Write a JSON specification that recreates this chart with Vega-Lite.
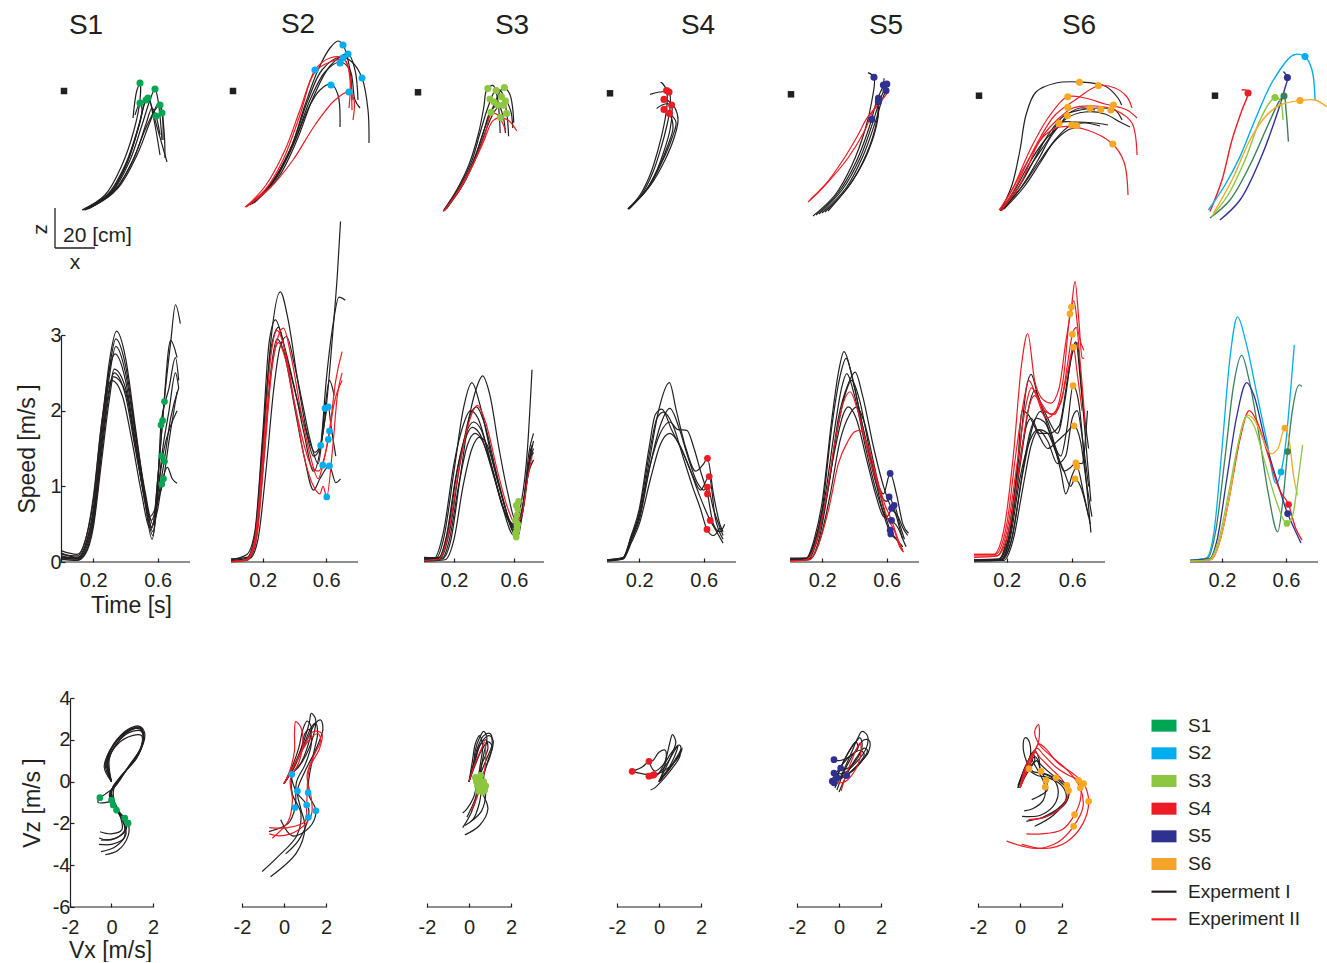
{
"$schema":"https://vega.github.io/schema/vega-lite/v6.json",
"background":"white","padding":0,"spacing":0,"bounds":"flush","columns":8,
"config":{"view":{"stroke":null},"font":"Liberation Sans",
"axis":{"grid":false,"domainColor":"#231f20","domainWidth":1.2,"tickColor":"#231f20","tickWidth":1.2,"labelColor":"#231f20","labelFont":"Liberation Sans","labelFontSize":20,"titleFont":"Liberation Sans","titleFontSize":23,"titleFontWeight":"normal","titleColor":"#231f20","labelFlush":false,"labelOverlap":false,"labelExpr":"'' + datum.value"},
"axisX":{"domain":false},
"title":{"font":"Liberation Sans","fontSize":28,"fontWeight":"normal","color":"#231f20"}},
"datasets":{
"a1":[{"k":1,"x":9,"z":-59},{"k":1,"x":20.5,"z":-51.5},{"k":1,"x":29,"z":-36.5},{"k":1,"x":35,"z":-19},{"k":1,"x":38,"z":-4},{"k":1,"x":38,"z":4},{"k":1,"x":36.5,"z":1},{"k":1,"x":34.5,"z":-13},
{"k":2,"x":10,"z":-59},{"k":2,"x":22,"z":-51},{"k":2,"x":31,"z":-35.5},{"k":2,"x":37,"z":-18},{"k":2,"x":40.5,"z":-5},{"k":2,"x":42,"z":-2},{"k":2,"x":45,"z":-14},{"k":2,"x":48,"z":-31.5},
{"k":3,"x":11,"z":-58.5},{"k":3,"x":24,"z":-50},{"k":3,"x":33,"z":-34},{"k":3,"x":39,"z":-16.5},{"k":3,"x":43,"z":-4},{"k":3,"x":45.5,"z":1.5},{"k":3,"x":47,"z":-4},{"k":3,"x":49,"z":-24},
{"k":4,"x":12,"z":-58.5},{"k":4,"x":25.5,"z":-49},{"k":4,"x":35,"z":-33},{"k":4,"x":41,"z":-16},{"k":4,"x":44,"z":-8},{"k":4,"x":46,"z":-12},{"k":4,"x":48,"z":-21.5},
{"k":5,"x":9.5,"z":-59},{"k":5,"x":23,"z":-50.5},{"k":5,"x":32,"z":-34},{"k":5,"x":38,"z":-15},{"k":5,"x":41,"z":-4},{"k":5,"x":42.5,"z":-4},{"k":5,"x":45.5,"z":-14},{"k":5,"x":51.5,"z":-35},
{"k":6,"x":13,"z":-58},{"k":6,"x":27,"z":-48},{"k":6,"x":36.5,"z":-31.5},{"k":6,"x":43,"z":-15},{"k":6,"x":47,"z":-6},{"k":6,"x":49,"z":-10.5},{"k":6,"x":49.5,"z":-24},
{"k":7,"x":10.5,"z":-59},{"k":7,"x":22,"z":-52},{"k":7,"x":30.5,"z":-38},{"k":7,"x":36,"z":-22},{"k":7,"x":39,"z":-9},{"k":7,"x":38,"z":-5.5},{"k":7,"x":35.5,"z":-11.5},
{"k":8,"x":11.5,"z":-58.5},{"k":8,"x":24.5,"z":-50.5},{"k":8,"x":34,"z":-35},{"k":8,"x":40.5,"z":-19},{"k":8,"x":45.5,"z":-9},{"k":8,"x":48,"z":-6.5},{"k":8,"x":50,"z":-19},{"k":8,"x":50.5,"z":-33}],
"a1d":[{"x":38,"z":4.5},{"x":45.5,"z":1.5},{"x":38,"z":-5.5},{"x":42,"z":-3},{"x":48,"z":-6.5},{"x":49,"z":-10.5},{"x":46,"z":-12},{"x":41,"z":-4}],
"a2":[{"k":1,"x":7,"z":-57},{"k":1,"x":18.5,"z":-46.5},{"k":1,"x":28.5,"z":-29},{"k":1,"x":36,"z":-6.5},{"k":1,"x":42.5,"z":11},{"k":1,"x":48.5,"z":22},{"k":1,"x":52.5,"z":25.5},{"k":1,"x":55,"z":23.5},{"k":1,"x":58.5,"z":11},{"k":1,"x":59.5,"z":-4},
{"k":2,"x":8.5,"z":-56.5},{"k":2,"x":19.5,"z":-45},{"k":2,"x":29.5,"z":-26.5},{"k":2,"x":37.5,"z":-4},{"k":2,"x":44.5,"z":11},{"k":2,"x":53.5,"z":17.5},{"k":2,"x":59.5,"z":15},{"k":2,"x":64.5,"z":7},{"k":2,"x":67.5,"z":-9},{"k":2,"x":68,"z":-25.5},
{"k":3,"x":9.5,"z":-56},{"k":3,"x":21,"z":-44},{"k":3,"x":30.5,"z":-25.5},{"k":3,"x":38.5,"z":-4},{"k":3,"x":46,"z":10},{"k":3,"x":53.5,"z":15},{"k":3,"x":58.5,"z":11},{"k":3,"x":61,"z":-4},{"k":3,"x":63.5,"z":-8},
{"k":4,"x":8,"z":-56.5},{"k":4,"x":19.5,"z":-45.5},{"k":4,"x":30,"z":-26.5},{"k":4,"x":38.5,"z":-6.5},{"k":4,"x":43.5,"z":1},{"k":4,"x":49,"z":4},{"k":4,"x":52.5,"z":-1.5},{"k":4,"x":53.5,"z":-17.5},
{"k":5,"x":10.5,"z":-55.5},{"k":5,"x":22.5,"z":-43},{"k":5,"x":32,"z":-24},{"k":5,"x":40,"z":-3},{"k":5,"x":48.5,"z":13},{"k":5,"x":57.5,"z":19},{"k":5,"x":61,"z":11},{"k":5,"x":62.5,"z":-4}],
"a2r":[{"k":1,"x":6,"z":-57.5},{"k":1,"x":16,"z":-49},{"k":1,"x":25,"z":-34},{"k":1,"x":33.5,"z":-11.5},{"k":1,"x":41,"z":11},{"k":1,"x":48.5,"z":17},{"k":1,"x":55,"z":17},{"k":1,"x":58,"z":11},{"k":1,"x":59.5,"z":-9},
{"k":2,"x":6.5,"z":-57.5},{"k":2,"x":18.5,"z":-48},{"k":2,"x":30,"z":-34},{"k":2,"x":41,"z":-16.5},{"k":2,"x":51,"z":-4},{"k":2,"x":58,"z":0},{"k":2,"x":60.5,"z":-4},{"k":2,"x":60,"z":-14},
{"k":3,"x":7,"z":-57},{"k":3,"x":16.5,"z":-46.5},{"k":3,"x":26,"z":-29},{"k":3,"x":33.5,"z":-9},{"k":3,"x":41,"z":10},{"k":3,"x":48.5,"z":15},{"k":3,"x":56,"z":16},{"k":3,"x":58.5,"z":6},{"k":3,"x":58,"z":-8}],
"a2d":[{"x":55,"z":23.5},{"x":57.5,"z":19},{"x":55,"z":17},{"x":53.5,"z":14.5},{"x":41,"z":11},{"x":64.5,"z":7},{"x":49,"z":3.5},{"x":58,"z":0}],
"a3":[{"k":1,"x":12.7,"z":-59.3},{"k":1,"x":19.4,"z":-48.9},{"k":1,"x":25.6,"z":-36},{"k":1,"x":30.3,"z":-20.5},{"k":1,"x":32.9,"z":-7.6},{"k":1,"x":34.4,"z":1.2},{"k":1,"x":37.5,"z":3.3},{"k":1,"x":39.6,"z":-2.4},{"k":1,"x":41.1,"z":-20.5},
{"k":2,"x":13.2,"z":-58.8},{"k":2,"x":20.5,"z":-47.9},{"k":2,"x":26.7,"z":-35},{"k":2,"x":31.3,"z":-19.5},{"k":2,"x":35,"z":-7.6},{"k":2,"x":39.1,"z":1.2},{"k":2,"x":41.7,"z":0.2},{"k":2,"x":44.3,"z":-10.2},{"k":2,"x":45.3,"z":-22.1},
{"k":3,"x":13.7,"z":-58.8},{"k":3,"x":21.5,"z":-47.4},{"k":3,"x":28.2,"z":-33.5},{"k":3,"x":33.4,"z":-18},{"k":3,"x":37.5,"z":-7.6},{"k":3,"x":42.7,"z":2.2},{"k":3,"x":45.8,"z":-0.9},{"k":3,"x":47.9,"z":-15.4},
{"k":4,"x":13.2,"z":-59.3},{"k":4,"x":21,"z":-48.4},{"k":4,"x":27.7,"z":-34.5},{"k":4,"x":32.9,"z":-19.5},{"k":4,"x":36,"z":-10.2},{"k":4,"x":40.1,"z":-6.6},{"k":4,"x":42.7,"z":-12.8},{"k":4,"x":43.7,"z":-20.5},
{"k":5,"x":14.3,"z":-58.3},{"k":5,"x":22.5,"z":-46.4},{"k":5,"x":29.3,"z":-31.9},{"k":5,"x":34.4,"z":-18},{"k":5,"x":38.6,"z":-9.2},{"k":5,"x":43.7,"z":-4.5},{"k":5,"x":46.3,"z":-9.2},{"k":5,"x":47.4,"z":-18}],
"a3r":[{"k":1,"x":12.7,"z":-59.8},{"k":1,"x":19.4,"z":-50.5},{"k":1,"x":26.2,"z":-38.6},{"k":1,"x":32.4,"z":-25.7},{"k":1,"x":37.5,"z":-14.3},{"k":1,"x":41.2,"z":-12.8},{"k":1,"x":45.3,"z":-14.3},{"k":1,"x":49.4,"z":-19.5},
{"k":2,"x":13.2,"z":-59.3},{"k":2,"x":20.5,"z":-49.5},{"k":2,"x":27.2,"z":-37.1},{"k":2,"x":33.4,"z":-21.6},{"k":2,"x":36.5,"z":-11.2},{"k":2,"x":39.6,"z":-11.2},{"k":2,"x":42.7,"z":-16.4},{"k":2,"x":43.7,"z":-19.5}],
"a3d":[{"x":34.9,"z":1.7},{"x":39.1,"z":0.7},{"x":43.2,"z":2.2},{"x":36,"z":-3.5},{"x":40.1,"z":-6.6},{"x":43.7,"z":-4.5},{"x":42.7,"z":-6.6},{"x":36.5,"z":-10.2},{"x":41.2,"z":-12.8},{"x":44.3,"z":-10.7},{"x":38.1,"z":-5},{"x":41.7,"z":-2.4}],
"a4":[{"k":1,"x":9,"z":-58.5},{"k":1,"x":15,"z":-51.5},{"k":1,"x":20,"z":-41.5},{"k":1,"x":24,"z":-29},{"k":1,"x":27,"z":-16.5},{"k":1,"x":28.5,"z":-6.5},{"k":1,"x":28.3,"z":0.7},{"k":1,"x":26.5,"z":4},{"k":1,"x":25,"z":5.2},
{"k":2,"x":9.5,"z":-58.5},{"k":2,"x":16,"z":-51},{"k":2,"x":21.5,"z":-40},{"k":2,"x":25.5,"z":-28},{"k":2,"x":28.5,"z":-16.5},{"k":2,"x":30,"z":-8},{"k":2,"x":29.5,"z":-0.2},{"k":2,"x":25,"z":0},{"k":2,"x":20,"z":-1.2},
{"k":3,"x":9,"z":-58.5},{"k":3,"x":17.5,"z":-50},{"k":3,"x":23.5,"z":-39},{"k":3,"x":27.5,"z":-28},{"k":3,"x":30,"z":-19},{"k":3,"x":31,"z":-10},{"k":3,"x":30.8,"z":-6.5},{"k":3,"x":27.5,"z":-6},{"k":3,"x":23.3,"z":-8.2},
{"k":4,"x":9.5,"z":-58},{"k":4,"x":18,"z":-49},{"k":4,"x":24.5,"z":-37.5},{"k":4,"x":29,"z":-26.5},{"k":4,"x":31.5,"z":-18},{"k":4,"x":30,"z":-11.5},{"k":4,"x":27,"z":-8.7},
{"k":5,"x":9,"z":-58.5},{"k":5,"x":19,"z":-48},{"k":5,"x":26,"z":-35},{"k":5,"x":31,"z":-23},{"k":5,"x":33,"z":-15},{"k":5,"x":29.7,"z":-10.7},
{"k":6,"x":10,"z":-58},{"k":6,"x":20,"z":-47},{"k":6,"x":27.5,"z":-34},{"k":6,"x":32.5,"z":-21.5},{"k":6,"x":34,"z":-14},{"k":6,"x":32.5,"z":-8},{"k":6,"x":28,"z":-3.7},{"k":6,"x":27,"z":-3.7}],
"a4d":[{"x":28.3,"z":0.7},{"x":29.5,"z":0},{"x":27,"z":-3.7},{"x":30.8,"z":-6.5},{"x":27,"z":-8.7},{"x":29.7,"z":-10.7}],
"a5":[{"k":1,"x":11,"z":-62},{"k":1,"x":22,"z":-51.5},{"k":1,"x":30.5,"z":-36.5},{"k":1,"x":37,"z":-19},{"k":1,"x":40.5,"z":-4},{"k":1,"x":41.5,"z":7.4},{"k":1,"x":38.5,"z":9.7},
{"k":2,"x":12.5,"z":-61.5},{"k":2,"x":23.5,"z":-50.5},{"k":2,"x":32.5,"z":-35},{"k":2,"x":39,"z":-18},{"k":2,"x":43,"z":-4},{"k":2,"x":46.2,"z":3.5},{"k":2,"x":46.5,"z":6.9},
{"k":3,"x":14,"z":-61},{"k":3,"x":25.5,"z":-49},{"k":3,"x":34.5,"z":-33},{"k":3,"x":40.5,"z":-16.5},{"k":3,"x":44.5,"z":-4},{"k":3,"x":47.9,"z":4},
{"k":4,"x":15.5,"z":-60.5},{"k":4,"x":27.5,"z":-48},{"k":4,"x":36,"z":-32},{"k":4,"x":42,"z":-15.5},{"k":4,"x":45.5,"z":-4},{"k":4,"x":47.5,"z":0.7},
{"k":5,"x":17,"z":-60},{"k":5,"x":29,"z":-47},{"k":5,"x":37.5,"z":-31.5},{"k":5,"x":43,"z":-14},{"k":5,"x":43.7,"z":-3.2},
{"k":6,"x":18.5,"z":-59.5},{"k":6,"x":30,"z":-45.5},{"k":6,"x":38.5,"z":-30},{"k":6,"x":43.5,"z":-13},{"k":6,"x":43.7,"z":-4.9}],
"a5r":[{"k":1,"x":8.5,"z":-55},{"k":1,"x":17,"z":-46.5},{"k":1,"x":26,"z":-34},{"k":1,"x":33.5,"z":-21.5},{"k":1,"x":37.9,"z":-13.2},{"k":1,"x":43.5,"z":-6.5},{"k":1,"x":48.7,"z":0.2},
{"k":2,"x":9.5,"z":-54},{"k":2,"x":18.5,"z":-45},{"k":2,"x":28.5,"z":-33},{"k":2,"x":37,"z":-19},{"k":2,"x":41.2,"z":-9},{"k":2,"x":44.5,"z":-4}],
"a5d":[{"x":41.5,"z":7.4},{"x":46.2,"z":3.5},{"x":47.9,"z":4},{"x":47.5,"z":0.7},{"x":43.7,"z":-3.2},{"x":43.7,"z":-4.9},{"x":40.4,"z":-13.7}],
"a6":[{"k":1,"x":11,"z":-59},{"k":1,"x":16.5,"z":-46.5},{"k":1,"x":20.5,"z":-29},{"k":1,"x":23.5,"z":-11.5},{"k":1,"x":28.5,"z":0},{"k":1,"x":38.5,"z":4.5},{"k":1,"x":50,"z":5},{"k":1,"x":63,"z":3},{"k":1,"x":69.5,"z":-3},{"k":1,"x":71.3,"z":-6.5},
{"k":2,"x":11.5,"z":-59},{"k":2,"x":20.5,"z":-46.5},{"k":2,"x":28,"z":-33},{"k":2,"x":35.5,"z":-20},{"k":2,"x":43,"z":-11.5},{"k":2,"x":50.5,"z":-9},{"k":2,"x":60.5,"z":-8},{"k":2,"x":68,"z":-9},{"k":2,"x":71.5,"z":-14},
{"k":3,"x":12,"z":-58.5},{"k":3,"x":21.5,"z":-47},{"k":3,"x":29.5,"z":-34},{"k":3,"x":36.5,"z":-21.5},{"k":3,"x":44,"z":-13},{"k":3,"x":53,"z":-10},{"k":3,"x":63,"z":-11},{"k":3,"x":70.5,"z":-15},{"k":3,"x":75.5,"z":-17.5},
{"k":4,"x":11,"z":-59.5},{"k":4,"x":19.5,"z":-48},{"k":4,"x":27,"z":-35},{"k":4,"x":34.5,"z":-24},{"k":4,"x":40,"z":-15.5},{"k":4,"x":48,"z":-15},{"k":4,"x":58,"z":-15.5},{"k":4,"x":64.5,"z":-16.5},
{"k":5,"x":12.5,"z":-58.5},{"k":5,"x":22.5,"z":-47.5},{"k":5,"x":30.5,"z":-35.5},{"k":5,"x":38,"z":-24},{"k":5,"x":46,"z":-16.5},{"k":5,"x":53,"z":-15.5},{"k":5,"x":60.5,"z":-17},
{"k":6,"x":11.5,"z":-59},{"k":6,"x":21,"z":-48},{"k":6,"x":29,"z":-36.5},{"k":6,"x":37,"z":-25.5},{"k":6,"x":44.5,"z":-19},{"k":6,"x":50.5,"z":-17.5},
{"k":7,"x":10.5,"z":-59.5},{"k":7,"x":18.5,"z":-48},{"k":7,"x":25.5,"z":-35},{"k":7,"x":33,"z":-24},{"k":7,"x":40.5,"z":-16.5},{"k":7,"x":44,"z":-11.5},{"k":7,"x":50.5,"z":-8},{"k":7,"x":58,"z":-9}],
"a6r":[{"k":1,"x":11,"z":-59.5},{"k":1,"x":17.5,"z":-49},{"k":1,"x":24,"z":-35.5},{"k":1,"x":30.5,"z":-23},{"k":1,"x":38,"z":-11.5},{"k":1,"x":48,"z":-4},{"k":1,"x":59.5,"z":3},{"k":1,"x":68,"z":2},{"k":1,"x":74,"z":-2.5},{"k":1,"x":76.5,"z":-8},
{"k":2,"x":10.5,"z":-59},{"k":2,"x":17,"z":-48},{"k":2,"x":25.5,"z":-32.5},{"k":2,"x":33,"z":-21.5},{"k":2,"x":40.5,"z":-17.5},{"k":2,"x":54,"z":-19},{"k":2,"x":66.8,"z":-26},{"k":2,"x":72.5,"z":-35},{"k":2,"x":74.5,"z":-51.5},
{"k":3,"x":12,"z":-58},{"k":3,"x":20.5,"z":-46.5},{"k":3,"x":30.5,"z":-24},{"k":3,"x":39,"z":-14},{"k":3,"x":47,"z":-8},{"k":3,"x":58,"z":-7},{"k":3,"x":68,"z":-9},{"k":3,"x":76.5,"z":-15.5},{"k":3,"x":79,"z":-31.5},
{"k":4,"x":10,"z":-59},{"k":4,"x":16.5,"z":-49},{"k":4,"x":25.5,"z":-29},{"k":4,"x":34.5,"z":-13},{"k":4,"x":44,"z":-2.5},{"k":4,"x":53,"z":-3},{"k":4,"x":63,"z":-6},{"k":4,"x":74,"z":-9},{"k":4,"x":79,"z":-13}],
"a6d":[{"x":50.2,"z":4.9},{"x":59.7,"z":3.2},{"x":44.4,"z":-2.4},{"x":44.4,"z":-7.7},{"x":44.2,"z":-11.9},{"x":55.5,"z":-8.2},{"x":60.9,"z":-8.7},{"x":65.9,"z":-9},{"x":67.2,"z":-6.5},{"x":40,"z":-15.7},{"x":46.4,"z":-16.5},{"x":48.9,"z":-16.9},{"x":66.9,"z":-26}],
"a7":[{"k":"S4","x":-2.5,"z":-59.8},{"k":"S4","x":3.5,"z":-44},{"k":"S4","x":8.5,"z":-24},{"k":"S4","x":13.5,"z":-9},{"k":"S4","x":16.5,"z":-0.5},{"k":"S4","x":15.5,"z":1},{"k":"S4","x":13.3,"z":1},
{"k":"S2","x":-3.3,"z":-59},{"k":"S2","x":5,"z":-46.5},{"k":"S2","x":12.5,"z":-32.3},{"k":"S2","x":20,"z":-14},{"k":"S2","x":29.2,"z":6},{"k":"S2","x":39.2,"z":18.5},{"k":"S2","x":45,"z":17.7},{"k":"S2","x":48.5,"z":11},{"k":"S2","x":50,"z":-4},
{"k":"S5","x":2.5,"z":-64},{"k":"S5","x":12.5,"z":-54},{"k":"S5","x":22.5,"z":-34},{"k":"S5","x":30,"z":-14},{"k":"S5","x":35,"z":2},{"k":"S5","x":36.2,"z":7.2},{"k":"S5","x":34.2,"z":10.2},
{"k":"S1","x":-2.5,"z":-63},{"k":"S1","x":7.5,"z":-54},{"k":"S1","x":17.5,"z":-36.5},{"k":"S1","x":26.5,"z":-16.5},{"k":"S1","x":32.5,"z":-4},{"k":"S1","x":34.5,"z":-2},{"k":"S1","x":35.5,"z":-9},{"k":"S1","x":36.7,"z":-24.8},
{"k":"S3","x":-1.7,"z":-62.3},{"k":"S3","x":6.5,"z":-51.5},{"k":"S3","x":15,"z":-34},{"k":"S3","x":22.5,"z":-14},{"k":"S3","x":27.5,"z":-5},{"k":"S3","x":30,"z":-2.8},{"k":"S3","x":32.5,"z":-4},{"k":"S3","x":34,"z":-14},
{"k":"S6","x":-0.8,"z":-60.7},{"k":"S6","x":8.5,"z":-44},{"k":"S6","x":17.5,"z":-24},{"k":"S6","x":25,"z":-12.5},{"k":"S6","x":32.5,"z":-6.5},{"k":"S6","x":42.5,"z":-4.3},{"k":"S6","x":50,"z":-4},{"k":"S6","x":55.8,"z":-7.3}],
"a7d":[{"k":"S4","x":16.5,"z":-0.5},{"k":"S2","x":45,"z":17.7},{"k":"S5","x":36.2,"z":7.2},{"k":"S1","x":34.5,"z":-2},{"k":"S3","x":30,"z":-2.8},{"k":"S6","x":42.5,"z":-4.3}],
"b1":[{"k":1,"t":0,"v":0.12},{"k":1,"t":0.1,"v":0.06},{"k":1,"t":0.15,"v":0.22},{"k":1,"t":0.2,"v":0.7},{"k":1,"t":0.25,"v":1.7},{"k":1,"t":0.3,"v":2.65},{"k":1,"t":0.345,"v":3.05},{"k":1,"t":0.4,"v":2.7},{"k":1,"t":0.46,"v":1.8},{"k":1,"t":0.52,"v":0.9},{"k":1,"t":0.565,"v":0.45},{"k":1,"t":0.6,"v":1.1},{"k":1,"t":0.64,"v":2.12},{"k":1,"t":0.68,"v":2.9},{"k":1,"t":0.71,"v":3.4},{"k":1,"t":0.74,"v":3.15},
{"k":2,"t":0,"v":0.08},{"k":2,"t":0.1,"v":0.05},{"k":2,"t":0.15,"v":0.18},{"k":2,"t":0.2,"v":0.6},{"k":2,"t":0.25,"v":1.6},{"k":2,"t":0.3,"v":2.55},{"k":2,"t":0.34,"v":2.95},{"k":2,"t":0.4,"v":2.6},{"k":2,"t":0.46,"v":1.75},{"k":2,"t":0.52,"v":0.95},{"k":2,"t":0.57,"v":0.5},{"k":2,"t":0.6,"v":1.1},{"k":2,"t":0.63,"v":1.87},{"k":2,"t":0.68,"v":2.93},{"k":2,"t":0.72,"v":2.7},
{"k":3,"t":0,"v":0.05},{"k":3,"t":0.1,"v":0.04},{"k":3,"t":0.15,"v":0.15},{"k":3,"t":0.2,"v":0.55},{"k":3,"t":0.25,"v":1.5},{"k":3,"t":0.3,"v":2.45},{"k":3,"t":0.34,"v":2.85},{"k":3,"t":0.4,"v":2.5},{"k":3,"t":0.46,"v":1.7},{"k":3,"t":0.52,"v":0.9},{"k":3,"t":0.57,"v":0.4},{"k":3,"t":0.6,"v":1.0},{"k":3,"t":0.62,"v":1.81},{"k":3,"t":0.67,"v":2.3},{"k":3,"t":0.71,"v":2.7},{"k":3,"t":0.73,"v":2.4},
{"k":4,"t":0,"v":0.1},{"k":4,"t":0.1,"v":0.08},{"k":4,"t":0.15,"v":0.28},{"k":4,"t":0.2,"v":0.8},{"k":4,"t":0.25,"v":1.8},{"k":4,"t":0.3,"v":2.55},{"k":4,"t":0.335,"v":2.75},{"k":4,"t":0.4,"v":2.4},{"k":4,"t":0.46,"v":1.6},{"k":4,"t":0.51,"v":0.95},{"k":4,"t":0.56,"v":0.55},{"k":4,"t":0.6,"v":0.9},{"k":4,"t":0.625,"v":1.4},{"k":4,"t":0.67,"v":2.0},{"k":4,"t":0.71,"v":2.5},{"k":4,"t":0.73,"v":2.3},
{"k":5,"t":0,"v":0.03},{"k":5,"t":0.1,"v":0.03},{"k":5,"t":0.15,"v":0.12},{"k":5,"t":0.2,"v":0.5},{"k":5,"t":0.25,"v":1.4},{"k":5,"t":0.3,"v":2.25},{"k":5,"t":0.33,"v":2.55},{"k":5,"t":0.4,"v":2.3},{"k":5,"t":0.46,"v":1.6},{"k":5,"t":0.52,"v":0.8},{"k":5,"t":0.565,"v":0.3},{"k":5,"t":0.6,"v":0.8},{"k":5,"t":0.64,"v":1.33},{"k":5,"t":0.68,"v":1.9},{"k":5,"t":0.73,"v":2.3},
{"k":6,"t":0,"v":0.06},{"k":6,"t":0.1,"v":0.05},{"k":6,"t":0.15,"v":0.2},{"k":6,"t":0.2,"v":0.65},{"k":6,"t":0.25,"v":1.5},{"k":6,"t":0.3,"v":2.3},{"k":6,"t":0.33,"v":2.5},{"k":6,"t":0.4,"v":2.2},{"k":6,"t":0.46,"v":1.5},{"k":6,"t":0.51,"v":0.95},{"k":6,"t":0.55,"v":0.6},{"k":6,"t":0.6,"v":0.8},{"k":6,"t":0.636,"v":1.1},{"k":6,"t":0.67,"v":1.6},{"k":6,"t":0.72,"v":2.25},
{"k":7,"t":0,"v":0.15},{"k":7,"t":0.1,"v":0.1},{"k":7,"t":0.15,"v":0.28},{"k":7,"t":0.2,"v":0.85},{"k":7,"t":0.25,"v":1.8},{"k":7,"t":0.29,"v":2.3},{"k":7,"t":0.315,"v":2.4},{"k":7,"t":0.38,"v":2.2},{"k":7,"t":0.44,"v":1.6},{"k":7,"t":0.5,"v":0.9},{"k":7,"t":0.55,"v":0.45},{"k":7,"t":0.6,"v":0.7},{"k":7,"t":0.625,"v":1.03},{"k":7,"t":0.66,"v":1.25},{"k":7,"t":0.69,"v":1.1},{"k":7,"t":0.72,"v":1.04},
{"k":8,"t":0,"v":0.04},{"k":8,"t":0.1,"v":0.02},{"k":8,"t":0.15,"v":0.1},{"k":8,"t":0.2,"v":0.45},{"k":8,"t":0.25,"v":1.3},{"k":8,"t":0.3,"v":2.15},{"k":8,"t":0.325,"v":2.45},{"k":8,"t":0.4,"v":2.25},{"k":8,"t":0.46,"v":1.55},{"k":8,"t":0.52,"v":0.8},{"k":8,"t":0.57,"v":0.35},{"k":8,"t":0.6,"v":0.9},{"k":8,"t":0.64,"v":1.5},{"k":8,"t":0.68,"v":1.8},{"k":8,"t":0.72,"v":2.0}],
"b1d":[{"t":0.642,"v":2.12},{"t":0.63,"v":1.87},{"t":0.62,"v":1.81},{"t":0.625,"v":1.4},{"t":0.642,"v":1.33},{"t":0.636,"v":1.1},{"t":0.625,"v":1.03}],
"b2":[{"k":1,"t":0,"v":0.02},{"k":1,"t":0.1,"v":0.05},{"k":1,"t":0.15,"v":0.3},{"k":1,"t":0.2,"v":1.5},{"k":1,"t":0.25,"v":2.9},{"k":1,"t":0.31,"v":3.57},{"k":1,"t":0.36,"v":3.2},{"k":1,"t":0.42,"v":2.4},{"k":1,"t":0.48,"v":1.7},{"k":1,"t":0.53,"v":1.45},{"k":1,"t":0.57,"v":1.6},{"k":1,"t":0.6,"v":2.05},{"k":1,"t":0.64,"v":3.0},{"k":1,"t":0.67,"v":3.8},{"k":1,"t":0.69,"v":4.5},
{"k":2,"t":0,"v":0.03},{"k":2,"t":0.1,"v":0.1},{"k":2,"t":0.15,"v":0.4},{"k":2,"t":0.2,"v":1.7},{"k":2,"t":0.24,"v":2.9},{"k":2,"t":0.28,"v":3.2},{"k":2,"t":0.33,"v":2.9},{"k":2,"t":0.4,"v":2.3},{"k":2,"t":0.46,"v":1.7},{"k":2,"t":0.52,"v":1.2},{"k":2,"t":0.565,"v":1.54},{"k":2,"t":0.6,"v":2.4},{"k":2,"t":0.64,"v":3.1},{"k":2,"t":0.68,"v":3.5},{"k":2,"t":0.72,"v":3.46},
{"k":3,"t":0,"v":0.02},{"k":3,"t":0.12,"v":0.05},{"k":3,"t":0.17,"v":0.3},{"k":3,"t":0.22,"v":1.2},{"k":3,"t":0.27,"v":2.3},{"k":3,"t":0.31,"v":2.85},{"k":3,"t":0.35,"v":2.98},{"k":3,"t":0.4,"v":2.6},{"k":3,"t":0.45,"v":2.1},{"k":3,"t":0.5,"v":1.6},{"k":3,"t":0.55,"v":1.3},{"k":3,"t":0.592,"v":2.03},{"k":3,"t":0.62,"v":2.4},{"k":3,"t":0.65,"v":2.2},
{"k":4,"t":0,"v":0.01},{"k":4,"t":0.1,"v":0.02},{"k":4,"t":0.15,"v":0.2},{"k":4,"t":0.2,"v":1.2},{"k":4,"t":0.25,"v":2.5},{"k":4,"t":0.29,"v":2.95},{"k":4,"t":0.33,"v":2.8},{"k":4,"t":0.4,"v":2.05},{"k":4,"t":0.46,"v":1.4},{"k":4,"t":0.52,"v":0.95},{"k":4,"t":0.56,"v":1.1},{"k":4,"t":0.62,"v":1.27},{"k":4,"t":0.66,"v":1.05},{"k":4,"t":0.69,"v":1.1},
{"k":5,"t":0,"v":0.04},{"k":5,"t":0.1,"v":0.06},{"k":5,"t":0.15,"v":0.35},{"k":5,"t":0.2,"v":1.6},{"k":5,"t":0.25,"v":2.8},{"k":5,"t":0.3,"v":3.1},{"k":5,"t":0.35,"v":2.7},{"k":5,"t":0.41,"v":2.2},{"k":5,"t":0.47,"v":1.75},{"k":5,"t":0.52,"v":1.4},{"k":5,"t":0.56,"v":1.5},{"k":5,"t":0.613,"v":2.05},{"k":5,"t":0.63,"v":1.8},{"k":5,"t":0.66,"v":1.4}],
"b2r":[{"k":1,"t":0,"v":0.0},{"k":1,"t":0.1,"v":0.04},{"k":1,"t":0.15,"v":0.3},{"k":1,"t":0.2,"v":1.4},{"k":1,"t":0.25,"v":2.7},{"k":1,"t":0.29,"v":3.06},{"k":1,"t":0.34,"v":2.8},{"k":1,"t":0.4,"v":2.1},{"k":1,"t":0.46,"v":1.4},{"k":1,"t":0.52,"v":1.0},{"k":1,"t":0.56,"v":0.9},{"k":1,"t":0.58,"v":1.0},{"k":1,"t":0.603,"v":0.86},{"k":1,"t":0.64,"v":1.5},{"k":1,"t":0.67,"v":2.2},{"k":1,"t":0.7,"v":2.5},
{"k":2,"t":0,"v":0.0},{"k":2,"t":0.1,"v":0.03},{"k":2,"t":0.15,"v":0.25},{"k":2,"t":0.2,"v":1.3},{"k":2,"t":0.26,"v":2.6},{"k":2,"t":0.3,"v":3.0},{"k":2,"t":0.33,"v":3.09},{"k":2,"t":0.38,"v":2.7},{"k":2,"t":0.44,"v":2.0},{"k":2,"t":0.5,"v":1.4},{"k":2,"t":0.55,"v":1.1},{"k":2,"t":0.578,"v":1.28},{"k":2,"t":0.62,"v":1.73},{"k":2,"t":0.66,"v":2.4},{"k":2,"t":0.7,"v":2.78},
{"k":3,"t":0,"v":0.01},{"k":3,"t":0.1,"v":0.03},{"k":3,"t":0.16,"v":0.3},{"k":3,"t":0.21,"v":1.4},{"k":3,"t":0.26,"v":2.6},{"k":3,"t":0.3,"v":2.9},{"k":3,"t":0.34,"v":2.7},{"k":3,"t":0.4,"v":2.1},{"k":3,"t":0.46,"v":1.55},{"k":3,"t":0.51,"v":1.25},{"k":3,"t":0.55,"v":1.2},{"k":3,"t":0.613,"v":1.62},{"k":3,"t":0.65,"v":2.1},{"k":3,"t":0.7,"v":2.4}],
"b2d":[{"t":0.592,"v":2.03},{"t":0.613,"v":2.05},{"t":0.565,"v":1.54},{"t":0.62,"v":1.73},{"t":0.613,"v":1.62},{"t":0.578,"v":1.28},{"t":0.62,"v":1.27},{"t":0.603,"v":0.86}],
"b3":[{"k":1,"t":0,"v":0.05},{"k":1,"t":0.08,"v":0.05},{"k":1,"t":0.13,"v":0.3},{"k":1,"t":0.2,"v":1.2},{"k":1,"t":0.26,"v":2.0},{"k":1,"t":0.32,"v":2.37},{"k":1,"t":0.37,"v":2.1},{"k":1,"t":0.45,"v":1.4},{"k":1,"t":0.53,"v":0.8},{"k":1,"t":0.6,"v":0.4},{"k":1,"t":0.65,"v":0.6},{"k":1,"t":0.7,"v":1.3},{"k":1,"t":0.73,"v":1.5},
{"k":2,"t":0,"v":0.02},{"k":2,"t":0.12,"v":0.04},{"k":2,"t":0.18,"v":0.3},{"k":2,"t":0.24,"v":1.1},{"k":2,"t":0.3,"v":1.9},{"k":2,"t":0.35,"v":2.3},{"k":2,"t":0.39,"v":2.46},{"k":2,"t":0.44,"v":2.2},{"k":2,"t":0.5,"v":1.5},{"k":2,"t":0.56,"v":0.9},{"k":2,"t":0.61,"v":0.55},{"k":2,"t":0.65,"v":0.8},{"k":2,"t":0.69,"v":1.5},{"k":2,"t":0.72,"v":2.54},
{"k":3,"t":0,"v":0.03},{"k":3,"t":0.07,"v":0.05},{"k":3,"t":0.13,"v":0.4},{"k":3,"t":0.2,"v":1.3},{"k":3,"t":0.26,"v":1.8},{"k":3,"t":0.31,"v":2.0},{"k":3,"t":0.36,"v":1.9},{"k":3,"t":0.44,"v":1.35},{"k":3,"t":0.52,"v":0.75},{"k":3,"t":0.6,"v":0.35},{"k":3,"t":0.64,"v":0.5},{"k":3,"t":0.69,"v":1.2},{"k":3,"t":0.73,"v":1.6},
{"k":4,"t":0,"v":0.05},{"k":4,"t":0.1,"v":0.06},{"k":4,"t":0.16,"v":0.4},{"k":4,"t":0.22,"v":1.2},{"k":4,"t":0.28,"v":1.7},{"k":4,"t":0.33,"v":1.85},{"k":4,"t":0.38,"v":1.75},{"k":4,"t":0.46,"v":1.2},{"k":4,"t":0.54,"v":0.65},{"k":4,"t":0.61,"v":0.45},{"k":4,"t":0.66,"v":0.7},{"k":4,"t":0.7,"v":1.3},{"k":4,"t":0.73,"v":1.45},
{"k":5,"t":0,"v":0.04},{"k":5,"t":0.12,"v":0.05},{"k":5,"t":0.17,"v":0.3},{"k":5,"t":0.23,"v":1.0},{"k":5,"t":0.29,"v":1.55},{"k":5,"t":0.34,"v":1.7},{"k":5,"t":0.39,"v":1.6},{"k":5,"t":0.47,"v":1.1},{"k":5,"t":0.55,"v":0.6},{"k":5,"t":0.62,"v":0.4},{"k":5,"t":0.66,"v":0.75},{"k":5,"t":0.7,"v":1.2},{"k":5,"t":0.73,"v":1.35},
{"k":6,"t":0,"v":0.02},{"k":6,"t":0.09,"v":0.03},{"k":6,"t":0.15,"v":0.35},{"k":6,"t":0.21,"v":1.1},{"k":6,"t":0.27,"v":1.6},{"k":6,"t":0.32,"v":1.78},{"k":6,"t":0.37,"v":1.7},{"k":6,"t":0.45,"v":1.25},{"k":6,"t":0.53,"v":0.7},{"k":6,"t":0.6,"v":0.5},{"k":6,"t":0.64,"v":0.6},{"k":6,"t":0.68,"v":1.0},{"k":6,"t":0.72,"v":1.55},
{"k":7,"t":0,"v":0.06},{"k":7,"t":0.11,"v":0.05},{"k":7,"t":0.17,"v":0.4},{"k":7,"t":0.24,"v":1.3},{"k":7,"t":0.3,"v":1.9},{"k":7,"t":0.35,"v":2.05},{"k":7,"t":0.4,"v":1.85},{"k":7,"t":0.48,"v":1.2},{"k":7,"t":0.56,"v":0.6},{"k":7,"t":0.62,"v":0.3},{"k":7,"t":0.66,"v":0.7},{"k":7,"t":0.7,"v":1.45},{"k":7,"t":0.73,"v":1.7},
{"k":8,"t":0,"v":0.01},{"k":8,"t":0.14,"v":0.03},{"k":8,"t":0.2,"v":0.3},{"k":8,"t":0.26,"v":1.0},{"k":8,"t":0.32,"v":1.5},{"k":8,"t":0.37,"v":1.65},{"k":8,"t":0.42,"v":1.55},{"k":8,"t":0.5,"v":1.0},{"k":8,"t":0.57,"v":0.55},{"k":8,"t":0.62,"v":0.45},{"k":8,"t":0.67,"v":0.8},{"k":8,"t":0.71,"v":1.5}],
"b3r":[{"k":1,"t":0,"v":0.02},{"k":1,"t":0.1,"v":0.04},{"k":1,"t":0.16,"v":0.35},{"k":1,"t":0.23,"v":1.2},{"k":1,"t":0.3,"v":1.85},{"k":1,"t":0.357,"v":2.07},{"k":1,"t":0.41,"v":1.85},{"k":1,"t":0.49,"v":1.2},{"k":1,"t":0.56,"v":0.7},{"k":1,"t":0.61,"v":0.5},{"k":1,"t":0.65,"v":0.6},{"k":1,"t":0.69,"v":1.1},{"k":1,"t":0.72,"v":1.4}],
"b3d":[{"t":0.615,"v":0.33},{"t":0.62,"v":0.42},{"t":0.625,"v":0.5},{"t":0.61,"v":0.55},{"t":0.62,"v":0.62},{"t":0.625,"v":0.7},{"t":0.615,"v":0.75},{"t":0.63,"v":0.8},{"t":0.62,"v":0.47},{"t":0.61,"v":0.38}],
"b4":[{"k":1,"t":0,"v":0.02},{"k":1,"t":0.1,"v":0.05},{"k":1,"t":0.15,"v":0.3},{"k":1,"t":0.2,"v":0.6},{"k":1,"t":0.26,"v":1.3},{"k":1,"t":0.32,"v":2.0},{"k":1,"t":0.387,"v":2.37},{"k":1,"t":0.43,"v":2.0},{"k":1,"t":0.49,"v":1.5},{"k":1,"t":0.55,"v":1.2},{"k":1,"t":0.6,"v":1.3},{"k":1,"t":0.623,"v":1.37},{"k":1,"t":0.66,"v":0.9},{"k":1,"t":0.7,"v":0.5},{"k":1,"t":0.72,"v":0.4},
{"k":2,"t":0,"v":0.03},{"k":2,"t":0.1,"v":0.06},{"k":2,"t":0.15,"v":0.35},{"k":2,"t":0.2,"v":0.7},{"k":2,"t":0.26,"v":1.5},{"k":2,"t":0.3,"v":1.95},{"k":2,"t":0.34,"v":2.02},{"k":2,"t":0.4,"v":1.75},{"k":2,"t":0.47,"v":1.45},{"k":2,"t":0.53,"v":1.15},{"k":2,"t":0.58,"v":0.95},{"k":2,"t":0.634,"v":1.13},{"k":2,"t":0.67,"v":0.6},{"k":2,"t":0.72,"v":0.3},
{"k":3,"t":0,"v":0.01},{"k":3,"t":0.1,"v":0.04},{"k":3,"t":0.15,"v":0.28},{"k":3,"t":0.2,"v":0.55},{"k":3,"t":0.27,"v":1.3},{"k":3,"t":0.33,"v":1.8},{"k":3,"t":0.39,"v":2.03},{"k":3,"t":0.45,"v":1.75},{"k":3,"t":0.5,"v":1.4},{"k":3,"t":0.56,"v":1.05},{"k":3,"t":0.6,"v":0.95},{"k":3,"t":0.623,"v":0.99},{"k":3,"t":0.66,"v":0.7},{"k":3,"t":0.72,"v":0.35},
{"k":4,"t":0,"v":0.02},{"k":4,"t":0.1,"v":0.05},{"k":4,"t":0.15,"v":0.3},{"k":4,"t":0.2,"v":0.6},{"k":4,"t":0.27,"v":1.3},{"k":4,"t":0.33,"v":1.7},{"k":4,"t":0.39,"v":1.85},{"k":4,"t":0.44,"v":1.75},{"k":4,"t":0.495,"v":1.74},{"k":4,"t":0.54,"v":1.5},{"k":4,"t":0.58,"v":1.2},{"k":4,"t":0.623,"v":0.9},{"k":4,"t":0.66,"v":0.5},{"k":4,"t":0.7,"v":0.4},{"k":4,"t":0.73,"v":0.5},
{"k":5,"t":0,"v":0.02},{"k":5,"t":0.1,"v":0.04},{"k":5,"t":0.15,"v":0.25},{"k":5,"t":0.2,"v":0.5},{"k":5,"t":0.27,"v":1.1},{"k":5,"t":0.33,"v":1.55},{"k":5,"t":0.39,"v":1.7},{"k":5,"t":0.45,"v":1.55},{"k":5,"t":0.51,"v":1.25},{"k":5,"t":0.57,"v":0.9},{"k":5,"t":0.64,"v":0.55},{"k":5,"t":0.68,"v":0.4},{"k":5,"t":0.72,"v":0.25},
{"k":6,"t":0,"v":0.03},{"k":6,"t":0.1,"v":0.06},{"k":6,"t":0.15,"v":0.33},{"k":6,"t":0.2,"v":0.65},{"k":6,"t":0.26,"v":1.4},{"k":6,"t":0.31,"v":1.9},{"k":6,"t":0.35,"v":1.98},{"k":6,"t":0.41,"v":1.8},{"k":6,"t":0.47,"v":1.4},{"k":6,"t":0.53,"v":1.0},{"k":6,"t":0.58,"v":0.7},{"k":6,"t":0.62,"v":0.43},{"k":6,"t":0.66,"v":0.35},{"k":6,"t":0.7,"v":0.45}],
"b4d":[{"t":0.623,"v":1.37},{"t":0.634,"v":1.13},{"t":0.623,"v":0.99},{"t":0.623,"v":0.9},{"t":0.64,"v":0.55},{"t":0.62,"v":0.43}],
"b5":[{"k":1,"t":0,"v":0.05},{"k":1,"t":0.1,"v":0.05},{"k":1,"t":0.15,"v":0.3},{"k":1,"t":0.2,"v":0.8},{"k":1,"t":0.26,"v":1.9},{"k":1,"t":0.3,"v":2.5},{"k":1,"t":0.335,"v":2.78},{"k":1,"t":0.38,"v":2.5},{"k":1,"t":0.45,"v":1.8},{"k":1,"t":0.52,"v":1.2},{"k":1,"t":0.58,"v":0.9},{"k":1,"t":0.621,"v":1.17},{"k":1,"t":0.66,"v":0.9},{"k":1,"t":0.7,"v":0.5},{"k":1,"t":0.735,"v":0.38},
{"k":2,"t":0,"v":0.02},{"k":2,"t":0.1,"v":0.04},{"k":2,"t":0.15,"v":0.25},{"k":2,"t":0.2,"v":0.7},{"k":2,"t":0.26,"v":1.8},{"k":2,"t":0.31,"v":2.45},{"k":2,"t":0.348,"v":2.69},{"k":2,"t":0.4,"v":2.3},{"k":2,"t":0.47,"v":1.6},{"k":2,"t":0.54,"v":1.0},{"k":2,"t":0.6,"v":0.8},{"k":2,"t":0.615,"v":0.86},{"k":2,"t":0.66,"v":0.6},{"k":2,"t":0.7,"v":0.3},{"k":2,"t":0.72,"v":0.2},
{"k":3,"t":0,"v":0.03},{"k":3,"t":0.12,"v":0.04},{"k":3,"t":0.18,"v":0.3},{"k":3,"t":0.24,"v":1.0},{"k":3,"t":0.3,"v":1.9},{"k":3,"t":0.36,"v":2.35},{"k":3,"t":0.404,"v":2.51},{"k":3,"t":0.45,"v":2.2},{"k":3,"t":0.52,"v":1.5},{"k":3,"t":0.58,"v":1.0},{"k":3,"t":0.63,"v":0.71},{"k":3,"t":0.67,"v":0.6},{"k":3,"t":0.7,"v":0.45},{"k":3,"t":0.73,"v":0.35},
{"k":4,"t":0,"v":0.04},{"k":4,"t":0.1,"v":0.05},{"k":4,"t":0.16,"v":0.3},{"k":4,"t":0.22,"v":0.9},{"k":4,"t":0.28,"v":1.8},{"k":4,"t":0.32,"v":2.3},{"k":4,"t":0.352,"v":2.49},{"k":4,"t":0.4,"v":2.2},{"k":4,"t":0.47,"v":1.5},{"k":4,"t":0.54,"v":0.9},{"k":4,"t":0.6,"v":0.6},{"k":4,"t":0.646,"v":0.75},{"k":4,"t":0.68,"v":0.5},{"k":4,"t":0.71,"v":0.3},
{"k":5,"t":0,"v":0.02},{"k":5,"t":0.11,"v":0.03},{"k":5,"t":0.17,"v":0.3},{"k":5,"t":0.23,"v":0.9},{"k":5,"t":0.29,"v":1.7},{"k":5,"t":0.34,"v":2.2},{"k":5,"t":0.383,"v":2.4},{"k":5,"t":0.43,"v":2.15},{"k":5,"t":0.5,"v":1.4},{"k":5,"t":0.56,"v":0.8},{"k":5,"t":0.6,"v":0.5},{"k":5,"t":0.625,"v":0.37},{"k":5,"t":0.66,"v":0.3},{"k":5,"t":0.7,"v":0.2},
{"k":6,"t":0,"v":0.03},{"k":6,"t":0.1,"v":0.04},{"k":6,"t":0.16,"v":0.25},{"k":6,"t":0.22,"v":0.8},{"k":6,"t":0.28,"v":1.5},{"k":6,"t":0.33,"v":1.95},{"k":6,"t":0.362,"v":2.05},{"k":6,"t":0.41,"v":1.9},{"k":6,"t":0.47,"v":1.4},{"k":6,"t":0.53,"v":0.9},{"k":6,"t":0.58,"v":0.6},{"k":6,"t":0.63,"v":0.55},{"k":6,"t":0.67,"v":0.45},{"k":6,"t":0.7,"v":0.3},
{"k":7,"t":0,"v":0.02},{"k":7,"t":0.12,"v":0.03},{"k":7,"t":0.18,"v":0.25},{"k":7,"t":0.25,"v":0.9},{"k":7,"t":0.31,"v":1.6},{"k":7,"t":0.37,"v":1.95},{"k":7,"t":0.414,"v":2.05},{"k":7,"t":0.46,"v":1.85},{"k":7,"t":0.52,"v":1.3},{"k":7,"t":0.57,"v":0.8},{"k":7,"t":0.621,"v":0.42},{"k":7,"t":0.66,"v":0.3},{"k":7,"t":0.7,"v":0.15}],
"b5r":[{"k":1,"t":0,"v":0.01},{"k":1,"t":0.1,"v":0.03},{"k":1,"t":0.16,"v":0.25},{"k":1,"t":0.22,"v":0.8},{"k":1,"t":0.28,"v":1.6},{"k":1,"t":0.33,"v":2.1},{"k":1,"t":0.373,"v":2.25},{"k":1,"t":0.42,"v":2.0},{"k":1,"t":0.49,"v":1.4},{"k":1,"t":0.56,"v":0.9},{"k":1,"t":0.6,"v":0.6},{"k":1,"t":0.65,"v":0.4},{"k":1,"t":0.68,"v":0.2},{"k":1,"t":0.705,"v":0.13},
{"k":2,"t":0,"v":0.02},{"k":2,"t":0.12,"v":0.03},{"k":2,"t":0.18,"v":0.25},{"k":2,"t":0.24,"v":0.7},{"k":2,"t":0.3,"v":1.3},{"k":2,"t":0.36,"v":1.6},{"k":2,"t":0.4,"v":1.72},{"k":2,"t":0.435,"v":1.74},{"k":2,"t":0.48,"v":1.55},{"k":2,"t":0.54,"v":1.1},{"k":2,"t":0.59,"v":0.75},{"k":2,"t":0.63,"v":0.55},{"k":2,"t":0.67,"v":0.3},{"k":2,"t":0.7,"v":0.14}],
"b5d":[{"t":0.621,"v":1.17},{"t":0.615,"v":0.86},{"t":0.646,"v":0.75},{"t":0.63,"v":0.71},{"t":0.63,"v":0.55},{"t":0.621,"v":0.42},{"t":0.625,"v":0.37}],
"b6":[{"k":1,"t":0,"v":0.02},{"k":1,"t":0.15,"v":0.03},{"k":1,"t":0.21,"v":0.4},{"k":1,"t":0.28,"v":1.5},{"k":1,"t":0.32,"v":2.3},{"k":1,"t":0.349,"v":2.48},{"k":1,"t":0.39,"v":2.2},{"k":1,"t":0.45,"v":1.9},{"k":1,"t":0.51,"v":1.7},{"k":1,"t":0.56,"v":2.2},{"k":1,"t":0.6,"v":2.8},{"k":1,"t":0.622,"v":2.91},{"k":1,"t":0.65,"v":2.4},{"k":1,"t":0.69,"v":1.4},{"k":1,"t":0.714,"v":0.8},
{"k":2,"t":0,"v":0.03},{"k":2,"t":0.15,"v":0.04},{"k":2,"t":0.22,"v":0.4},{"k":2,"t":0.29,"v":1.4},{"k":2,"t":0.34,"v":2.1},{"k":2,"t":0.371,"v":2.27},{"k":2,"t":0.42,"v":2.0},{"k":2,"t":0.48,"v":1.6},{"k":2,"t":0.53,"v":1.4},{"k":2,"t":0.57,"v":1.8},{"k":2,"t":0.605,"v":2.33},{"k":2,"t":0.64,"v":2.1},{"k":2,"t":0.68,"v":1.2},{"k":2,"t":0.714,"v":0.39},
{"k":3,"t":0,"v":0.02},{"k":3,"t":0.16,"v":0.03},{"k":3,"t":0.22,"v":0.35},{"k":3,"t":0.27,"v":1.4},{"k":3,"t":0.293,"v":2.0},{"k":3,"t":0.33,"v":1.95},{"k":3,"t":0.39,"v":1.7},{"k":3,"t":0.45,"v":1.5},{"k":3,"t":0.51,"v":1.6},{"k":3,"t":0.56,"v":1.7},{"k":3,"t":0.611,"v":1.8},{"k":3,"t":0.65,"v":1.6},{"k":3,"t":0.69,"v":1.0},{"k":3,"t":0.72,"v":0.6},
{"k":4,"t":0,"v":0.02},{"k":4,"t":0.16,"v":0.02},{"k":4,"t":0.23,"v":0.3},{"k":4,"t":0.3,"v":1.2},{"k":4,"t":0.36,"v":1.8},{"k":4,"t":0.406,"v":1.99},{"k":4,"t":0.45,"v":1.85},{"k":4,"t":0.5,"v":1.5},{"k":4,"t":0.55,"v":1.2},{"k":4,"t":0.59,"v":1.25},{"k":4,"t":0.622,"v":1.31},{"k":4,"t":0.66,"v":1.3},{"k":4,"t":0.693,"v":2.0},
{"k":5,"t":0,"v":0.03},{"k":5,"t":0.17,"v":0.03},{"k":5,"t":0.23,"v":0.3},{"k":5,"t":0.29,"v":1.1},{"k":5,"t":0.34,"v":1.7},{"k":5,"t":0.38,"v":1.9},{"k":5,"t":0.43,"v":1.85},{"k":5,"t":0.48,"v":1.6},{"k":5,"t":0.53,"v":1.2},{"k":5,"t":0.56,"v":0.9},{"k":5,"t":0.6,"v":1.15},{"k":5,"t":0.628,"v":1.26},{"k":5,"t":0.67,"v":0.9},{"k":5,"t":0.71,"v":0.5},
{"k":6,"t":0,"v":0.02},{"k":6,"t":0.18,"v":0.02},{"k":6,"t":0.24,"v":0.3},{"k":6,"t":0.3,"v":1.0},{"k":6,"t":0.35,"v":1.55},{"k":6,"t":0.4,"v":1.75},{"k":6,"t":0.45,"v":1.7},{"k":6,"t":0.5,"v":1.45},{"k":6,"t":0.55,"v":1.2},{"k":6,"t":0.59,"v":1.0},{"k":6,"t":0.617,"v":1.1},{"k":6,"t":0.65,"v":1.0},{"k":6,"t":0.7,"v":0.6},
{"k":7,"t":0,"v":0.02},{"k":7,"t":0.15,"v":0.03},{"k":7,"t":0.21,"v":0.3},{"k":7,"t":0.27,"v":1.2},{"k":7,"t":0.32,"v":1.8},{"k":7,"t":0.35,"v":1.9},{"k":7,"t":0.4,"v":1.7},{"k":7,"t":0.46,"v":1.7},{"k":7,"t":0.52,"v":1.8},{"k":7,"t":0.57,"v":2.4},{"k":7,"t":0.6,"v":2.75},{"k":7,"t":0.63,"v":2.9},{"k":7,"t":0.66,"v":2.2},{"k":7,"t":0.7,"v":1.5},
{"k":8,"t":0,"v":0.01},{"k":8,"t":0.16,"v":0.02},{"k":8,"t":0.22,"v":0.3},{"k":8,"t":0.28,"v":1.1},{"k":8,"t":0.34,"v":1.6},{"k":8,"t":0.39,"v":1.75},{"k":8,"t":0.45,"v":1.6},{"k":8,"t":0.51,"v":1.3},{"k":8,"t":0.56,"v":1.4},{"k":8,"t":0.6,"v":1.9},{"k":8,"t":0.63,"v":2.0},{"k":8,"t":0.67,"v":1.5},{"k":8,"t":0.7,"v":1.0}],
"b6r":[{"k":1,"t":0,"v":0.1},{"k":1,"t":0.12,"v":0.1},{"k":1,"t":0.18,"v":0.4},{"k":1,"t":0.24,"v":1.4},{"k":1,"t":0.29,"v":2.6},{"k":1,"t":0.328,"v":3.02},{"k":1,"t":0.37,"v":2.4},{"k":1,"t":0.42,"v":2.15},{"k":1,"t":0.47,"v":2.1},{"k":1,"t":0.52,"v":2.3},{"k":1,"t":0.56,"v":2.9},{"k":1,"t":0.595,"v":3.37},{"k":1,"t":0.617,"v":3.71},{"k":1,"t":0.64,"v":3.2},{"k":1,"t":0.66,"v":2.7},{"k":1,"t":0.673,"v":2.69},
{"k":2,"t":0,"v":0.1},{"k":2,"t":0.13,"v":0.1},{"k":2,"t":0.2,"v":0.5},{"k":2,"t":0.26,"v":1.5},{"k":2,"t":0.31,"v":2.2},{"k":2,"t":0.334,"v":2.4},{"k":2,"t":0.38,"v":2.2},{"k":2,"t":0.44,"v":1.9},{"k":2,"t":0.5,"v":2.0},{"k":2,"t":0.55,"v":2.5},{"k":2,"t":0.586,"v":3.28},{"k":2,"t":0.61,"v":3.45},{"k":2,"t":0.64,"v":3.0},{"k":2,"t":0.67,"v":2.8},
{"k":3,"t":0,"v":0.08},{"k":3,"t":0.14,"v":0.08},{"k":3,"t":0.2,"v":0.4},{"k":3,"t":0.27,"v":1.4},{"k":3,"t":0.32,"v":2.1},{"k":3,"t":0.35,"v":2.3},{"k":3,"t":0.41,"v":2.1},{"k":3,"t":0.47,"v":1.95},{"k":3,"t":0.53,"v":2.1},{"k":3,"t":0.57,"v":2.6},{"k":3,"t":0.601,"v":3.01},{"k":3,"t":0.625,"v":3.1},{"k":3,"t":0.65,"v":2.6},{"k":3,"t":0.68,"v":1.8},
{"k":4,"t":0,"v":0.06},{"k":4,"t":0.14,"v":0.08},{"k":4,"t":0.21,"v":0.4},{"k":4,"t":0.28,"v":1.3},{"k":4,"t":0.33,"v":2.0},{"k":4,"t":0.37,"v":2.2},{"k":4,"t":0.43,"v":2.0},{"k":4,"t":0.49,"v":1.95},{"k":4,"t":0.54,"v":2.2},{"k":4,"t":0.58,"v":2.6},{"k":4,"t":0.607,"v":2.84},{"k":4,"t":0.63,"v":2.5},{"k":4,"t":0.66,"v":2.0}],
"b6d":[{"t":0.595,"v":3.37},{"t":0.586,"v":3.28},{"t":0.601,"v":3.01},{"t":0.607,"v":2.84},{"t":0.605,"v":2.33},{"t":0.611,"v":1.8},{"t":0.622,"v":1.31},{"t":0.628,"v":1.26},{"t":0.617,"v":1.1}],
"b7":[{"k":"S2","t":0,"v":0.02},{"k":"S2","t":0.1,"v":0.05},{"k":"S2","t":0.15,"v":0.4},{"k":"S2","t":0.2,"v":1.5},{"k":"S2","t":0.25,"v":2.7},{"k":"S2","t":0.297,"v":3.24},{"k":"S2","t":0.35,"v":2.9},{"k":"S2","t":0.42,"v":2.2},{"k":"S2","t":0.48,"v":1.6},{"k":"S2","t":0.537,"v":1.04},{"k":"S2","t":0.569,"v":1.19},{"k":"S2","t":0.6,"v":1.6},{"k":"S2","t":0.63,"v":2.3},{"k":"S2","t":0.652,"v":2.87},
{"k":"S1","t":0,"v":0.02},{"k":"S1","t":0.11,"v":0.05},{"k":"S1","t":0.16,"v":0.4},{"k":"S1","t":0.22,"v":1.4},{"k":"S1","t":0.27,"v":2.3},{"k":"S1","t":0.323,"v":2.73},{"k":"S1","t":0.37,"v":2.4},{"k":"S1","t":0.43,"v":1.7},{"k":"S1","t":0.49,"v":0.9},{"k":"S1","t":0.548,"v":0.4},{"k":"S1","t":0.58,"v":0.8},{"k":"S1","t":0.61,"v":1.46},{"k":"S1","t":0.64,"v":2.0},{"k":"S1","t":0.683,"v":2.34},{"k":"S1","t":0.7,"v":2.32},
{"k":"S5","t":0,"v":0.02},{"k":"S5","t":0.12,"v":0.04},{"k":"S5","t":0.17,"v":0.3},{"k":"S5","t":0.23,"v":1.1},{"k":"S5","t":0.29,"v":1.9},{"k":"S5","t":0.354,"v":2.37},{"k":"S5","t":0.4,"v":2.2},{"k":"S5","t":0.47,"v":1.6},{"k":"S5","t":0.54,"v":1.1},{"k":"S5","t":0.61,"v":0.64},{"k":"S5","t":0.65,"v":0.45},{"k":"S5","t":0.694,"v":0.25},
{"k":"S4","t":0,"v":0.01},{"k":"S4","t":0.13,"v":0.03},{"k":"S4","t":0.19,"v":0.3},{"k":"S4","t":0.25,"v":0.9},{"k":"S4","t":0.31,"v":1.6},{"k":"S4","t":0.37,"v":2.0},{"k":"S4","t":0.42,"v":1.85},{"k":"S4","t":0.49,"v":1.4},{"k":"S4","t":0.56,"v":0.95},{"k":"S4","t":0.616,"v":0.76},{"k":"S4","t":0.66,"v":0.45},{"k":"S4","t":0.7,"v":0.29},
{"k":"S6","t":0,"v":0.01},{"k":"S6","t":0.13,"v":0.03},{"k":"S6","t":0.19,"v":0.3},{"k":"S6","t":0.25,"v":0.9},{"k":"S6","t":0.3,"v":1.55},{"k":"S6","t":0.36,"v":1.94},{"k":"S6","t":0.41,"v":1.85},{"k":"S6","t":0.46,"v":1.6},{"k":"S6","t":0.506,"v":1.43},{"k":"S6","t":0.55,"v":1.5},{"k":"S6","t":0.593,"v":1.77},{"k":"S6","t":0.62,"v":1.6},{"k":"S6","t":0.65,"v":1.1},{"k":"S6","t":0.672,"v":0.88},
{"k":"S3","t":0,"v":0.01},{"k":"S3","t":0.12,"v":0.03},{"k":"S3","t":0.18,"v":0.3},{"k":"S3","t":0.24,"v":0.9},{"k":"S3","t":0.3,"v":1.55},{"k":"S3","t":0.35,"v":1.92},{"k":"S3","t":0.4,"v":1.8},{"k":"S3","t":0.47,"v":1.3},{"k":"S3","t":0.54,"v":0.8},{"k":"S3","t":0.606,"v":0.51},{"k":"S3","t":0.64,"v":0.6},{"k":"S3","t":0.67,"v":1.0},{"k":"S3","t":0.704,"v":1.55}],
"b7d":[{"k":"S2","t":0.569,"v":1.19},{"k":"S1","t":0.61,"v":1.46},{"k":"S5","t":0.61,"v":0.64},{"k":"S4","t":0.616,"v":0.76},{"k":"S6","t":0.593,"v":1.77},{"k":"S3","t":0.606,"v":0.51}],
"c1":[{"k":1,"vx":0,"vz":0},{"k":1,"vx":-0.25,"vz":0.9},{"k":1,"vx":0.2,"vz":1.9},{"k":1,"vx":0.8,"vz":2.5},{"k":1,"vx":1.35,"vz":2.65},{"k":1,"vx":1.6,"vz":2.3},{"k":1,"vx":1.4,"vz":1.5},{"k":1,"vx":0.6,"vz":0.4},{"k":1,"vx":0.05,"vz":-0.3},{"k":1,"vx":0.05,"vz":-1.0},{"k":1,"vx":0.5,"vz":-1.8},{"k":1,"vx":0.7,"vz":-2.5},{"k":1,"vx":0.2,"vz":-3.1},{"k":1,"vx":-0.5,"vz":-3.35},
{"k":2,"vx":0,"vz":0},{"k":2,"vx":-0.2,"vz":1.0},{"k":2,"vx":0.3,"vz":2.0},{"k":2,"vx":0.9,"vz":2.45},{"k":2,"vx":1.4,"vz":2.55},{"k":2,"vx":1.55,"vz":2.1},{"k":2,"vx":1.3,"vz":1.3},{"k":2,"vx":0.5,"vz":0.3},{"k":2,"vx":0.1,"vz":-0.4},{"k":2,"vx":0.2,"vz":-1.2},{"k":2,"vx":0.6,"vz":-2.0},{"k":2,"vx":0.6,"vz":-2.7},{"k":2,"vx":0.0,"vz":-3.0},{"k":2,"vx":-0.6,"vz":-3.0},
{"k":3,"vx":0,"vz":0},{"k":3,"vx":-0.1,"vz":1.1},{"k":3,"vx":0.4,"vz":2.0},{"k":3,"vx":1.0,"vz":2.4},{"k":3,"vx":1.45,"vz":2.4},{"k":3,"vx":1.5,"vz":1.9},{"k":3,"vx":1.2,"vz":1.1},{"k":3,"vx":0.4,"vz":0.2},{"k":3,"vx":0.0,"vz":-0.5},{"k":3,"vx":0.24,"vz":-1.36},{"k":3,"vx":0.64,"vz":-1.75},{"k":3,"vx":0.7,"vz":-2.3},{"k":3,"vx":0.2,"vz":-2.7},{"k":3,"vx":-0.5,"vz":-2.8},
{"k":4,"vx":0,"vz":0},{"k":4,"vx":-0.3,"vz":0.8},{"k":4,"vx":0.1,"vz":1.8},{"k":4,"vx":0.7,"vz":2.4},{"k":4,"vx":1.3,"vz":2.6},{"k":4,"vx":1.55,"vz":2.2},{"k":4,"vx":1.35,"vz":1.4},{"k":4,"vx":0.55,"vz":0.35},{"k":4,"vx":-0.05,"vz":-0.5},{"k":4,"vx":0.0,"vz":-0.88},{"k":4,"vx":0.4,"vz":-1.6},{"k":4,"vx":0.5,"vz":-2.3},{"k":4,"vx":0.0,"vz":-2.5},{"k":4,"vx":-0.55,"vz":-2.4},
{"k":5,"vx":0,"vz":0},{"k":5,"vx":-0.2,"vz":0.9},{"k":5,"vx":0.3,"vz":1.8},{"k":5,"vx":1.0,"vz":2.2},{"k":5,"vx":1.45,"vz":2.2},{"k":5,"vx":1.4,"vz":1.6},{"k":5,"vx":0.9,"vz":0.8},{"k":5,"vx":0.3,"vz":0.0},{"k":5,"vx":-0.1,"vz":-0.6},{"k":5,"vx":0.08,"vz":-1.12},{"k":5,"vx":0.8,"vz":-1.99},{"k":5,"vx":0.8,"vz":-2.6},{"k":5,"vx":0.3,"vz":-3.3},{"k":5,"vx":-0.3,"vz":-3.5},
{"k":6,"vx":0,"vz":0},{"k":6,"vx":-0.35,"vz":0.7},{"k":6,"vx":0.0,"vz":1.6},{"k":6,"vx":0.6,"vz":2.3},{"k":6,"vx":1.2,"vz":2.55},{"k":6,"vx":1.5,"vz":2.4},{"k":6,"vx":1.45,"vz":1.7},{"k":6,"vx":0.8,"vz":0.7},{"k":6,"vx":0.2,"vz":-0.2},{"k":6,"vx":-0.3,"vz":-0.6},{"k":6,"vx":-0.56,"vz":-0.77},{"k":6,"vx":-0.65,"vz":-1.0},{"k":6,"vx":0.0,"vz":-0.95},
{"k":7,"vx":0,"vz":0},{"k":7,"vx":-0.15,"vz":1.0},{"k":7,"vx":0.35,"vz":1.95},{"k":7,"vx":0.95,"vz":2.5},{"k":7,"vx":1.4,"vz":2.6},{"k":7,"vx":1.55,"vz":2.0},{"k":7,"vx":1.2,"vz":1.2},{"k":7,"vx":0.5,"vz":0.25},{"k":7,"vx":0.0,"vz":-0.45},{"k":7,"vx":0.3,"vz":-1.3},{"k":7,"vx":0.7,"vz":-2.1},{"k":7,"vx":0.4,"vz":-2.6},{"k":7,"vx":-0.2,"vz":-2.8},{"k":7,"vx":-0.6,"vz":-2.7}],
"c1d":[{"vx":-0.56,"vz":-0.77},{"vx":0,"vz":-0.88},{"vx":0.08,"vz":-1.12},{"vx":0.24,"vz":-1.36},{"vx":0.64,"vz":-1.75},{"vx":0.8,"vz":-1.99}],
"c2":[{"k":1,"vx":0,"vz":-0.1},{"k":1,"vx":0.4,"vz":0.6},{"k":1,"vx":0.9,"vz":1.8},{"k":1,"vx":1.2,"vz":2.8},{"k":1,"vx":1.3,"vz":3.27},{"k":1,"vx":1.5,"vz":3.0},{"k":1,"vx":1.4,"vz":2.2},{"k":1,"vx":0.9,"vz":1.0},{"k":1,"vx":0.4,"vz":0.35},{"k":1,"vx":0.4,"vz":-0.6},{"k":1,"vx":0.8,"vz":-1.5},{"k":1,"vx":0.6,"vz":-2.6},{"k":1,"vx":-0.3,"vz":-3.6},{"k":1,"vx":-1.04,"vz":-4.3},
{"k":2,"vx":0,"vz":-0.1},{"k":2,"vx":0.5,"vz":0.8},{"k":2,"vx":1.1,"vz":2.0},{"k":2,"vx":1.5,"vz":2.8},{"k":2,"vx":1.75,"vz":2.95},{"k":2,"vx":1.85,"vz":2.5},{"k":2,"vx":1.5,"vz":1.5},{"k":2,"vx":1.0,"vz":0.5},{"k":2,"vx":0.64,"vz":-0.45},{"k":2,"vx":0.8,"vz":-1.3},{"k":2,"vx":1.0,"vz":-2.2},{"k":2,"vx":0.6,"vz":-3.4},{"k":2,"vx":-0.64,"vz":-4.55},
{"k":3,"vx":0,"vz":-0.1},{"k":3,"vx":0.3,"vz":0.5},{"k":3,"vx":0.7,"vz":1.6},{"k":3,"vx":0.9,"vz":2.5},{"k":3,"vx":1.1,"vz":2.9},{"k":3,"vx":1.3,"vz":2.6},{"k":3,"vx":1.1,"vz":1.6},{"k":3,"vx":0.7,"vz":0.7},{"k":3,"vx":0.37,"vz":0.35},{"k":3,"vx":0.6,"vz":-0.5},{"k":3,"vx":1.15,"vz":-1.2},{"k":3,"vx":1.16,"vz":-1.71},{"k":3,"vx":0.7,"vz":-2.8},{"k":3,"vx":0.08,"vz":-3.46},
{"k":4,"vx":0,"vz":-0.1},{"k":4,"vx":0.5,"vz":0.7},{"k":4,"vx":1.0,"vz":1.9},{"k":4,"vx":1.3,"vz":2.6},{"k":4,"vx":1.5,"vz":2.8},{"k":4,"vx":1.6,"vz":2.3},{"k":4,"vx":1.4,"vz":1.3},{"k":4,"vx":1.15,"vz":-0.53},{"k":4,"vx":1.52,"vz":-1.4},{"k":4,"vx":1.2,"vz":-2.2},{"k":4,"vx":0.4,"vz":-2.6},{"k":4,"vx":-0.16,"vz":-1.83},
{"k":5,"vx":0,"vz":-0.1},{"k":5,"vx":0.4,"vz":0.6},{"k":5,"vx":0.8,"vz":1.5},{"k":5,"vx":1.0,"vz":2.3},{"k":5,"vx":1.2,"vz":2.5},{"k":5,"vx":1.3,"vz":1.8},{"k":5,"vx":1.0,"vz":0.8},{"k":5,"vx":0.6,"vz":0.0},{"k":5,"vx":0.53,"vz":-1.24},{"k":5,"vx":0.2,"vz":-2.0},{"k":5,"vx":-0.72,"vz":-2.39}],
"c2r":[{"k":1,"vx":0,"vz":-0.1},{"k":1,"vx":0.3,"vz":0.6},{"k":1,"vx":0.5,"vz":1.5},{"k":1,"vx":0.5,"vz":2.3},{"k":1,"vx":0.56,"vz":2.87},{"k":1,"vx":0.8,"vz":2.6},{"k":1,"vx":0.9,"vz":1.8},{"k":1,"vx":0.7,"vz":0.9},{"k":1,"vx":0.3,"vz":0.1},{"k":1,"vx":0.4,"vz":-0.9},{"k":1,"vx":0.2,"vz":-1.9},{"k":1,"vx":-0.56,"vz":-2.71},
{"k":2,"vx":0,"vz":-0.1},{"k":2,"vx":0.5,"vz":0.8},{"k":2,"vx":1.0,"vz":1.8},{"k":2,"vx":1.4,"vz":2.4},{"k":2,"vx":1.8,"vz":2.3},{"k":2,"vx":1.7,"vz":1.6},{"k":2,"vx":1.2,"vz":0.6},{"k":2,"vx":1.08,"vz":-1.12},{"k":2,"vx":1.0,"vz":-1.9},{"k":2,"vx":0.2,"vz":-2.2},{"k":2,"vx":-0.7,"vz":-2.2},
{"k":3,"vx":0,"vz":-0.1},{"k":3,"vx":0.6,"vz":1.0},{"k":3,"vx":1.2,"vz":2.0},{"k":3,"vx":1.6,"vz":2.3},{"k":3,"vx":1.75,"vz":2.0},{"k":3,"vx":1.4,"vz":1.2},{"k":3,"vx":1.1,"vz":0.3},{"k":3,"vx":1.3,"vz":-0.8},{"k":3,"vx":1.3,"vz":-1.6},{"k":3,"vx":0.7,"vz":-2.3},{"k":3,"vx":-0.2,"vz":-2.6},{"k":3,"vx":-0.7,"vz":-2.5}],
"c2d":[{"vx":0.37,"vz":0.35},{"vx":0.64,"vz":-0.45},{"vx":1.15,"vz":-0.53},{"vx":0.53,"vz":-1.24},{"vx":1.08,"vz":-1.12},{"vx":1.52,"vz":-1.4},{"vx":1.16,"vz":-1.71}],
"c3":[{"k":1,"vx":0,"vz":0},{"k":1,"vx":0.2,"vz":0.8},{"k":1,"vx":0.4,"vz":1.6},{"k":1,"vx":0.7,"vz":2.2},{"k":1,"vx":1.0,"vz":2.3},{"k":1,"vx":1.1,"vz":1.8},{"k":1,"vx":0.8,"vz":1.0},{"k":1,"vx":0.5,"vz":0.2},{"k":1,"vx":0.4,"vz":-0.6},{"k":1,"vx":0.1,"vz":-1.5},{"k":1,"vx":-0.3,"vz":-2.2},
{"k":2,"vx":0,"vz":0},{"k":2,"vx":0.25,"vz":0.9},{"k":2,"vx":0.5,"vz":1.7},{"k":2,"vx":0.8,"vz":2.0},{"k":2,"vx":0.9,"vz":1.6},{"k":2,"vx":0.6,"vz":0.8},{"k":2,"vx":0.45,"vz":0.0},{"k":2,"vx":0.3,"vz":-0.8},{"k":2,"vx":0.0,"vz":-1.5},{"k":2,"vx":-0.1,"vz":-1.7},
{"k":3,"vx":0,"vz":0},{"k":3,"vx":0.2,"vz":0.7},{"k":3,"vx":0.3,"vz":1.5},{"k":3,"vx":0.5,"vz":2.1},{"k":3,"vx":0.7,"vz":2.4},{"k":3,"vx":0.85,"vz":2.1},{"k":3,"vx":0.7,"vz":1.3},{"k":3,"vx":0.55,"vz":0.4},{"k":3,"vx":0.6,"vz":-0.4},{"k":3,"vx":0.9,"vz":-1.3},{"k":3,"vx":0.5,"vz":-2.1},{"k":3,"vx":-0.2,"vz":-2.55},
{"k":4,"vx":0,"vz":0},{"k":4,"vx":0.3,"vz":0.8},{"k":4,"vx":0.6,"vz":1.5},{"k":4,"vx":0.9,"vz":1.9},{"k":4,"vx":1.1,"vz":1.7},{"k":4,"vx":0.9,"vz":1.0},{"k":4,"vx":0.7,"vz":0.2},{"k":4,"vx":0.8,"vz":-0.5},{"k":4,"vx":0.6,"vz":-1.4},{"k":4,"vx":0.1,"vz":-1.9},
{"k":5,"vx":0,"vz":0},{"k":5,"vx":0.15,"vz":0.9},{"k":5,"vx":0.3,"vz":1.8},{"k":5,"vx":0.5,"vz":2.2},{"k":5,"vx":0.65,"vz":1.7},{"k":5,"vx":0.55,"vz":0.9},{"k":5,"vx":0.4,"vz":0.0},{"k":5,"vx":0.2,"vz":-0.8},{"k":5,"vx":-0.1,"vz":-1.3},{"k":5,"vx":-0.3,"vz":-1.5},
{"k":6,"vx":0,"vz":0},{"k":6,"vx":0.25,"vz":0.8},{"k":6,"vx":0.55,"vz":1.8},{"k":6,"vx":0.95,"vz":2.2},{"k":6,"vx":1.15,"vz":1.95},{"k":6,"vx":1.0,"vz":1.2},{"k":6,"vx":0.7,"vz":0.4},{"k":6,"vx":0.6,"vz":-0.3},{"k":6,"vx":0.5,"vz":-1.0},{"k":6,"vx":0.2,"vz":-1.8},{"k":6,"vx":-0.2,"vz":-2.1}],
"c3r":[{"k":1,"vx":0,"vz":0},{"k":1,"vx":0.3,"vz":0.9},{"k":1,"vx":0.6,"vz":1.6},{"k":1,"vx":0.75,"vz":1.9},{"k":1,"vx":0.8,"vz":1.4},{"k":1,"vx":0.75,"vz":0.6},{"k":1,"vx":0.6,"vz":0.0},{"k":1,"vx":0.4,"vz":-0.7},{"k":1,"vx":0.1,"vz":-1.4}],
"c3d":[{"vx":0.3,"vz":0.2},{"vx":0.5,"vz":0.1},{"vx":0.7,"vz":0.0},{"vx":0.4,"vz":-0.2},{"vx":0.6,"vz":-0.3},{"vx":0.8,"vz":-0.2},{"vx":0.45,"vz":-0.45},{"vx":0.65,"vz":-0.5},{"vx":0.35,"vz":0.0},{"vx":0.55,"vz":0.3},{"vx":0.75,"vz":-0.4},{"vx":0.5,"vz":-0.1}],
"c4":[{"k":1,"vx":0,"vz":0},{"k":1,"vx":0.3,"vz":0.6},{"k":1,"vx":0.6,"vz":1.3},{"k":1,"vx":0.8,"vz":1.9},{"k":1,"vx":0.64,"vz":2.25},{"k":1,"vx":0.5,"vz":1.8},{"k":1,"vx":0.3,"vz":1.0},{"k":1,"vx":-0.1,"vz":0.3},{"k":1,"vx":-0.48,"vz":0.26},
{"k":2,"vx":0,"vz":0},{"k":2,"vx":0.4,"vz":0.5},{"k":2,"vx":0.8,"vz":1.1},{"k":2,"vx":1.05,"vz":1.6},{"k":2,"vx":0.95,"vz":1.75},{"k":2,"vx":0.6,"vz":1.4},{"k":2,"vx":0.2,"vz":0.8},{"k":2,"vx":-0.2,"vz":0.5},{"k":2,"vx":-0.48,"vz":0.97},
{"k":3,"vx":0,"vz":0},{"k":3,"vx":0.5,"vz":0.6},{"k":3,"vx":0.9,"vz":1.2},{"k":3,"vx":1.1,"vz":1.6},{"k":3,"vx":1.0,"vz":1.3},{"k":3,"vx":0.6,"vz":0.8},{"k":3,"vx":0.0,"vz":0.4},{"k":3,"vx":-0.6,"vz":0.35},{"k":3,"vx":-1.28,"vz":0.49},
{"k":4,"vx":0,"vz":0},{"k":4,"vx":0.3,"vz":0.4},{"k":4,"vx":0.6,"vz":0.9},{"k":4,"vx":0.85,"vz":1.5},{"k":4,"vx":0.9,"vz":1.75},{"k":4,"vx":0.75,"vz":1.5},{"k":4,"vx":0.4,"vz":0.9},{"k":4,"vx":0.0,"vz":0.4},{"k":4,"vx":-0.24,"vz":0.33},
{"k":5,"vx":0,"vz":0},{"k":5,"vx":0.2,"vz":0.5},{"k":5,"vx":0.35,"vz":1.2},{"k":5,"vx":0.3,"vz":1.5},{"k":5,"vx":0.0,"vz":1.4},{"k":5,"vx":-0.3,"vz":1.0},{"k":5,"vx":-0.48,"vz":0.97},{"k":5,"vx":-0.8,"vz":0.7},{"k":5,"vx":-1.28,"vz":0.49},
{"k":6,"vx":0,"vz":0},{"k":6,"vx":0.3,"vz":0.4},{"k":6,"vx":0.7,"vz":0.9},{"k":6,"vx":1.0,"vz":1.3},{"k":6,"vx":0.95,"vz":1.1},{"k":6,"vx":0.6,"vz":0.6},{"k":6,"vx":0.1,"vz":0.0},{"k":6,"vx":-0.2,"vz":-0.3},{"k":6,"vx":-0.4,"vz":-0.4}],
"c4d":[{"vx":-1.28,"vz":0.49},{"vx":-0.48,"vz":0.97},{"vx":-0.48,"vz":0.26},{"vx":-0.3,"vz":0.3},{"vx":-0.24,"vz":0.33}],
"c5":[{"k":1,"vx":-0.2,"vz":-0.3},{"k":1,"vx":0.2,"vz":0.5},{"k":1,"vx":0.6,"vz":1.4},{"k":1,"vx":0.9,"vz":2.1},{"k":1,"vx":1.1,"vz":2.4},{"k":1,"vx":1.35,"vz":2.2},{"k":1,"vx":1.3,"vz":1.6},{"k":1,"vx":0.8,"vz":0.9},{"k":1,"vx":0.2,"vz":0.4},{"k":1,"vx":-0.24,"vz":0.41},
{"k":2,"vx":-0.1,"vz":-0.4},{"k":2,"vx":0.3,"vz":0.6},{"k":2,"vx":0.8,"vz":1.5},{"k":2,"vx":1.2,"vz":2.0},{"k":2,"vx":1.45,"vz":1.95},{"k":2,"vx":1.4,"vz":1.4},{"k":2,"vx":0.9,"vz":0.8},{"k":2,"vx":0.37,"vz":0.29},
{"k":3,"vx":-0.3,"vz":-0.2},{"k":3,"vx":0.0,"vz":0.5},{"k":3,"vx":0.4,"vz":1.3},{"k":3,"vx":0.8,"vz":1.9},{"k":3,"vx":1.0,"vz":2.1},{"k":3,"vx":1.1,"vz":1.7},{"k":3,"vx":0.8,"vz":1.0},{"k":3,"vx":0.3,"vz":0.6},{"k":3,"vx":0.08,"vz":0.65},
{"k":4,"vx":0.0,"vz":-0.5},{"k":4,"vx":0.4,"vz":0.4},{"k":4,"vx":0.8,"vz":1.1},{"k":4,"vx":1.2,"vz":1.6},{"k":4,"vx":1.35,"vz":1.5},{"k":4,"vx":1.1,"vz":1.0},{"k":4,"vx":0.5,"vz":0.4},{"k":4,"vx":-0.08,"vz":0.18},
{"k":5,"vx":-0.2,"vz":-0.1},{"k":5,"vx":0.1,"vz":0.7},{"k":5,"vx":0.5,"vz":1.5},{"k":5,"vx":0.8,"vz":1.9},{"k":5,"vx":0.9,"vz":1.6},{"k":5,"vx":0.5,"vz":1.2},{"k":5,"vx":0.0,"vz":1.0},{"k":5,"vx":-0.24,"vz":1.05},
{"k":6,"vx":-0.4,"vz":0.0},{"k":6,"vx":0.0,"vz":0.6},{"k":6,"vx":0.5,"vz":1.2},{"k":6,"vx":1.0,"vz":1.5},{"k":6,"vx":1.2,"vz":1.3},{"k":6,"vx":0.8,"vz":0.7},{"k":6,"vx":0.2,"vz":0.2},{"k":6,"vx":-0.32,"vz":0.02}],
"c5r":[{"k":1,"vx":0.1,"vz":-0.45},{"k":1,"vx":0.3,"vz":0.2},{"k":1,"vx":0.6,"vz":1.0},{"k":1,"vx":0.9,"vz":1.7},{"k":1,"vx":1.0,"vz":1.85},{"k":1,"vx":1.05,"vz":1.4},{"k":1,"vx":0.8,"vz":0.6},{"k":1,"vx":0.3,"vz":0.0},{"k":1,"vx":-0.24,"vz":-0.06}],
"c5d":[{"vx":-0.24,"vz":1.05},{"vx":0.08,"vz":0.65},{"vx":-0.24,"vz":0.41},{"vx":0.37,"vz":0.29},{"vx":-0.32,"vz":0.02},{"vx":-0.08,"vz":0.18},{"vx":-0.24,"vz":-0.06}],
"c6":[{"k":1,"vx":-0.1,"vz":-0.3},{"k":1,"vx":0.2,"vz":0.6},{"k":1,"vx":0.5,"vz":1.3},{"k":1,"vx":0.4,"vz":2.0},{"k":1,"vx":0.24,"vz":2.1},{"k":1,"vx":0.15,"vz":1.7},{"k":1,"vx":0.3,"vz":1.0},{"k":1,"vx":0.6,"vz":0.5},{"k":1,"vx":1.0,"vz":0.4},{"k":1,"vx":1.5,"vz":0.2},{"k":1,"vx":1.8,"vz":-0.3},{"k":1,"vx":1.7,"vz":-1.0},{"k":1,"vx":1.0,"vz":-1.6},{"k":1,"vx":0.1,"vz":-1.66},
{"k":2,"vx":0.0,"vz":-0.3},{"k":2,"vx":0.3,"vz":0.7},{"k":2,"vx":0.6,"vz":1.4},{"k":2,"vx":0.7,"vz":1.0},{"k":2,"vx":0.43,"vz":0.62},{"k":2,"vx":0.8,"vz":0.3},{"k":2,"vx":1.3,"vz":0.2},{"k":2,"vx":2.0,"vz":-0.2},{"k":2,"vx":2.2,"vz":-0.8},{"k":2,"vx":1.6,"vz":-1.6},{"k":2,"vx":0.7,"vz":-2.14},
{"k":3,"vx":-0.1,"vz":-0.2},{"k":3,"vx":0.3,"vz":0.8},{"k":3,"vx":0.7,"vz":1.5},{"k":3,"vx":0.9,"vz":1.1},{"k":3,"vx":1.0,"vz":0.49},{"k":3,"vx":1.4,"vz":0.3},{"k":3,"vx":1.9,"vz":0.0},{"k":3,"vx":2.31,"vz":-0.43},{"k":3,"vx":2.2,"vz":-1.0},{"k":3,"vx":1.4,"vz":-1.6},{"k":3,"vx":0.3,"vz":-1.9},
{"k":4,"vx":0.0,"vz":-0.2},{"k":4,"vx":0.4,"vz":0.5},{"k":4,"vx":0.8,"vz":1.0},{"k":4,"vx":1.0,"vz":0.5},{"k":4,"vx":1.24,"vz":0.06},{"k":4,"vx":1.3,"vz":-0.4},{"k":4,"vx":0.9,"vz":-0.7},{"k":4,"vx":0.56,"vz":-0.86},
{"k":5,"vx":-0.1,"vz":-0.3},{"k":5,"vx":0.2,"vz":0.5},{"k":5,"vx":0.5,"vz":1.1},{"k":5,"vx":0.7,"vz":0.8},{"k":5,"vx":1.2,"vz":-0.26},{"k":5,"vx":1.1,"vz":-0.9},{"k":5,"vx":0.6,"vz":-1.3},{"k":5,"vx":0.2,"vz":-1.4},
{"k":6,"vx":0.0,"vz":-0.3},{"k":6,"vx":0.4,"vz":0.6},{"k":6,"vx":0.7,"vz":1.2},{"k":6,"vx":1.0,"vz":0.8},{"k":6,"vx":1.72,"vz":0.18},{"k":6,"vx":2.23,"vz":-0.18},{"k":6,"vx":2.3,"vz":-0.7},{"k":6,"vx":1.8,"vz":-1.3},{"k":6,"vx":1.0,"vz":-1.75}],
"c6r":[{"k":1,"vx":0.0,"vz":-0.3},{"k":1,"vx":0.5,"vz":1.0},{"k":1,"vx":0.9,"vz":2.0},{"k":1,"vx":0.88,"vz":2.73},{"k":1,"vx":0.7,"vz":2.4},{"k":1,"vx":0.9,"vz":1.8},{"k":1,"vx":1.5,"vz":1.2},{"k":1,"vx":2.3,"vz":0.5},{"k":1,"vx":2.87,"vz":-0.3},{"k":1,"vx":3.0,"vz":-1.2},{"k":1,"vx":2.55,"vz":-2.14},{"k":1,"vx":1.8,"vz":-2.9},{"k":1,"vx":0.8,"vz":-3.2},{"k":1,"vx":-0.64,"vz":-2.85},
{"k":2,"vx":0.0,"vz":-0.3},{"k":2,"vx":0.5,"vz":0.9},{"k":2,"vx":0.9,"vz":1.8},{"k":2,"vx":1.2,"vz":1.6},{"k":2,"vx":1.8,"vz":0.9},{"k":2,"vx":2.5,"vz":0.4},{"k":2,"vx":3.03,"vz":-0.1},{"k":2,"vx":3.27,"vz":-0.94},{"k":2,"vx":3.0,"vz":-2.0},{"k":2,"vx":2.2,"vz":-2.9},{"k":2,"vx":1.2,"vz":-3.2},{"k":2,"vx":0.08,"vz":-3.0},
{"k":3,"vx":0.0,"vz":-0.3},{"k":3,"vx":0.4,"vz":0.9},{"k":3,"vx":0.8,"vz":1.6},{"k":3,"vx":1.1,"vz":1.3},{"k":3,"vx":1.7,"vz":0.7},{"k":3,"vx":2.3,"vz":0.3},{"k":3,"vx":2.79,"vz":0.06},{"k":3,"vx":2.9,"vz":-0.7},{"k":3,"vx":2.6,"vz":-1.58},{"k":3,"vx":2.0,"vz":-2.3},{"k":3,"vx":1.0,"vz":-2.5},{"k":3,"vx":0.3,"vz":-2.5},
{"k":4,"vx":0.0,"vz":-0.3},{"k":4,"vx":0.3,"vz":0.8},{"k":4,"vx":0.7,"vz":1.4},{"k":4,"vx":1.0,"vz":1.1},{"k":4,"vx":1.5,"vz":0.6},{"k":4,"vx":2.0,"vz":0.1},{"k":4,"vx":2.3,"vz":-0.5},{"k":4,"vx":2.0,"vz":-1.2},{"k":4,"vx":1.2,"vz":-1.7},{"k":4,"vx":0.4,"vz":-1.82}],
"c6d":[{"vx":0.43,"vz":0.62},{"vx":1.0,"vz":0.49},{"vx":1.24,"vz":0.06},{"vx":1.2,"vz":-0.26},{"vx":1.72,"vz":0.18},{"vx":2.23,"vz":-0.18},{"vx":2.31,"vz":-0.43},{"vx":2.79,"vz":0.06},{"vx":3.03,"vz":-0.1},{"vx":2.87,"vz":-0.3},{"vx":3.27,"vz":-0.94},{"vx":2.6,"vz":-1.58},{"vx":2.55,"vz":-2.14}],
"leg":[{"label":"S1","kind":"box"},{"label":"S2","kind":"box"},{"label":"S3","kind":"box"},{"label":"S4","kind":"box"},{"label":"S5","kind":"box"},{"label":"S6","kind":"box"},{"label":"Experment I","kind":"line"},{"label":"Experiment II","kind":"line"}]
},
"concat":[
{"width":1,"height":40,"data":{"values":[]},"mark":"point"},{"width":1,"height":40,"data":{"values":[]},"mark":"point"},{"width":1,"height":40,"data":{"values":[]},"mark":"point"},{"width":1,"height":40,"data":{"values":[]},"mark":"point"},{"width":1,"height":40,"data":{"values":[]},"mark":"point"},{"width":1,"height":40,"data":{"values":[]},"mark":"point"},{"width":1,"height":40,"data":{"values":[]},"mark":"point"},{"width":1,"height":40,"data":{"values":[]},"mark":"point"},
{"width":54,"height":180,"data":{"values":[]},"mark":"point"},
{"width":169,"height":180,"title":{"text":"S1","anchor":"middle","frame":"group","dx":-52.5,"dy":25,"offset":3,"baseline":"alphabetic"},
"encoding":{"x":{"field":"x","type":"quantitative","scale":{"domain":[-5,79.5],"nice":false,"zero":false},"axis":null},"y":{"field":"z","type":"quantitative","scale":{"domain":[-64,26],"nice":false,"zero":false},"axis":null}},
"layer":[
{"data":{"name":"a1"},"mark":{"type":"line","interpolate":"catmull-rom","color":"#231f20","strokeWidth":1.2},"encoding":{"detail":{"field":"k","type":"nominal"},"order":{"value":null}}},
{"data":{"name":"a1d"},"mark":{"type":"circle","size":50,"opacity":1,"color":"#00A651"}},
{"data":{"values":[{"x":0,"z":0.5}]},"mark":{"type":"square","size":42,"opacity":1,"color":"#231f20"}},
{"data":{"values":[{"x":-4.5,"z":-78,"x2":-4.5,"z2":-58},{"x":-4.5,"z":-78,"x2":15.5,"z2":-78}]},"mark":{"type":"rule","color":"#231f20","strokeWidth":1.3},"encoding":{"x2":{"field":"x2"},"y2":{"field":"z2"}}},
{"data":{"values":[{"x":-0.5,"z":-72,"s":"20 [cm]"}]},"mark":{"type":"text","align":"left","baseline":"middle","fontSize":21,"color":"#231f20"},"encoding":{"text":{"field":"s"}}},
{"data":{"values":[{"x":-11.2,"z":-68.7,"s":"z"}]},"mark":{"type":"text","align":"center","baseline":"middle","angle":90,"fontSize":21,"color":"#231f20"},"encoding":{"text":{"field":"s"}}},
{"data":{"values":[{"x":5.5,"z":-85.7,"s":"x"}]},"mark":{"type":"text","align":"center","baseline":"middle","fontSize":21,"color":"#231f20"},"encoding":{"text":{"field":"s"}}}
]},
{"width":185,"height":180,"title":{"text":"S2","anchor":"middle","frame":"group","dx":-17.5,"dy":25,"offset":3,"baseline":"alphabetic"},
"encoding":{"x":{"field":"x","type":"quantitative","scale":{"domain":[-5,87.5],"nice":false,"zero":false},"axis":null},"y":{"field":"z","type":"quantitative","scale":{"domain":[-64,26],"nice":false,"zero":false},"axis":null}},
"layer":[
{"data":{"name":"a2"},"mark":{"type":"line","interpolate":"catmull-rom","color":"#231f20","strokeWidth":1.2},"encoding":{"detail":{"field":"k","type":"nominal"},"order":{"value":null}}},
{"data":{"name":"a2r"},"mark":{"type":"line","interpolate":"catmull-rom","color":"#ED1C24","strokeWidth":1.2},"encoding":{"detail":{"field":"k","type":"nominal"},"order":{"value":null}}},
{"data":{"name":"a2d"},"mark":{"type":"circle","size":50,"opacity":1,"color":"#00AEEF"}},
{"data":{"values":[{"x":0,"z":0.5}]},"mark":{"type":"square","size":42,"opacity":1,"color":"#231f20"}}
]},
{"width":192,"height":180,"title":{"text":"S3","anchor":"middle","frame":"group","dx":8,"dy":25,"offset":3,"baseline":"alphabetic"},
"encoding":{"x":{"field":"x","type":"quantitative","scale":{"domain":[-5,91],"nice":false,"zero":false},"axis":null},"y":{"field":"z","type":"quantitative","scale":{"domain":[-64,26],"nice":false,"zero":false},"axis":null}},
"layer":[
{"data":{"name":"a3"},"mark":{"type":"line","interpolate":"catmull-rom","color":"#231f20","strokeWidth":1.2},"encoding":{"detail":{"field":"k","type":"nominal"},"order":{"value":null}}},
{"data":{"name":"a3r"},"mark":{"type":"line","interpolate":"catmull-rom","color":"#ED1C24","strokeWidth":1.2},"encoding":{"detail":{"field":"k","type":"nominal"},"order":{"value":null}}},
{"data":{"name":"a3d"},"mark":{"type":"circle","size":50,"opacity":1,"color":"#8DC63F"}},
{"data":{"values":[{"x":0,"z":-0.15}]},"mark":{"type":"square","size":42,"opacity":1,"color":"#231f20"}}
]},
{"width":181,"height":180,"title":{"text":"S4","anchor":"middle","frame":"group","dx":7.5,"dy":25,"offset":3,"baseline":"alphabetic"},
"encoding":{"x":{"field":"x","type":"quantitative","scale":{"domain":[-5,85.5],"nice":false,"zero":false},"axis":null},"y":{"field":"z","type":"quantitative","scale":{"domain":[-64,26],"nice":false,"zero":false},"axis":null}},
"layer":[
{"data":{"name":"a4"},"mark":{"type":"line","interpolate":"catmull-rom","color":"#231f20","strokeWidth":1.2},"encoding":{"detail":{"field":"k","type":"nominal"},"order":{"value":null}}},
{"data":{"name":"a4d"},"mark":{"type":"circle","size":50,"opacity":1,"color":"#ED1C24"}},
{"data":{"values":[{"x":0,"z":-0.65}]},"mark":{"type":"square","size":42,"opacity":1,"color":"#231f20"}}
]},
{"width":188,"height":180,"title":{"text":"S5","anchor":"middle","frame":"group","dx":11,"dy":25,"offset":3,"baseline":"alphabetic"},
"encoding":{"x":{"field":"x","type":"quantitative","scale":{"domain":[-5,89],"nice":false,"zero":false},"axis":null},"y":{"field":"z","type":"quantitative","scale":{"domain":[-64,26],"nice":false,"zero":false},"axis":null}},
"layer":[
{"data":{"name":"a5"},"mark":{"type":"line","interpolate":"catmull-rom","color":"#231f20","strokeWidth":1.2},"encoding":{"detail":{"field":"k","type":"nominal"},"order":{"value":null}}},
{"data":{"name":"a5r"},"mark":{"type":"line","interpolate":"catmull-rom","color":"#ED1C24","strokeWidth":1.2},"encoding":{"detail":{"field":"k","type":"nominal"},"order":{"value":null}}},
{"data":{"name":"a5d"},"mark":{"type":"circle","size":50,"opacity":1,"color":"#2E3192"}},
{"data":{"values":[{"x":0,"z":-1.15}]},"mark":{"type":"square","size":42,"opacity":1,"color":"#231f20"}}
]},
{"width":181,"height":180,"title":{"text":"S6","anchor":"middle","frame":"group","dx":19.5,"dy":25,"offset":3,"baseline":"alphabetic"},
"encoding":{"x":{"field":"x","type":"quantitative","scale":{"domain":[-5,85.5],"nice":false,"zero":false},"axis":null},"y":{"field":"z","type":"quantitative","scale":{"domain":[-64,26],"nice":false,"zero":false},"axis":null}},
"layer":[
{"data":{"name":"a6"},"mark":{"type":"line","interpolate":"catmull-rom","color":"#231f20","strokeWidth":1.2},"encoding":{"detail":{"field":"k","type":"nominal"},"order":{"value":null}}},
{"data":{"name":"a6r"},"mark":{"type":"line","interpolate":"catmull-rom","color":"#ED1C24","strokeWidth":1.2},"encoding":{"detail":{"field":"k","type":"nominal"},"order":{"value":null}}},
{"data":{"name":"a6d"},"mark":{"type":"circle","size":50,"opacity":1,"color":"#F7A823"}},
{"data":{"values":[{"x":0,"z":-1.85}]},"mark":{"type":"square","size":42,"opacity":1,"color":"#231f20"}}
]},
{"width":177,"height":180,
"encoding":{"x":{"field":"x","type":"quantitative","scale":{"domain":[-32.5,56],"nice":false,"zero":false},"axis":null},"y":{"field":"z","type":"quantitative","scale":{"domain":[-64,26],"nice":false,"zero":false},"axis":null}},
"layer":[
{"data":{"name":"a7"},"mark":{"type":"line","interpolate":"catmull-rom","strokeWidth":1.4},"encoding":{"detail":{"field":"k","type":"nominal"},"order":{"value":null},"color":{"field":"k","type":"nominal","scale":{"domain":["S1","S2","S3","S4","S5","S6"],"range":["#3a8058","#00AEEF","#8DC63F","#ED1C24","#2E3192","#F7A823"]},"legend":null}}},
{"data":{"name":"a7d"},"mark":{"type":"circle","size":50,"opacity":1},"encoding":{"color":{"field":"k","type":"nominal","scale":{"domain":["S1","S2","S3","S4","S5","S6"],"range":["#3a8058","#00AEEF","#8DC63F","#ED1C24","#2E3192","#F7A823"]},"legend":null}}},
{"data":{"values":[{"x":0,"z":-1.85}]},"mark":{"type":"square","size":42,"opacity":1,"color":"#231f20"}}
]},
{"width":1,"height":115,"data":{"values":[]},"mark":"point"},{"width":1,"height":115,"data":{"values":[]},"mark":"point"},{"width":1,"height":115,"data":{"values":[]},"mark":"point"},{"width":1,"height":115,"data":{"values":[]},"mark":"point"},{"width":1,"height":115,"data":{"values":[]},"mark":"point"},{"width":1,"height":115,"data":{"values":[]},"mark":"point"},{"width":1,"height":115,"data":{"values":[]},"mark":"point"},{"width":1,"height":115,"data":{"values":[]},"mark":"point"},
{"width":1,"height":227,"data":{"values":[]},"mark":"point"},
{"width":169,"height":227,
"encoding":{"x":{"field":"t","type":"quantitative","scale":{"domain":[-0.0434,1.0047],"nice":false,"zero":false},"axis":{"values":[0.2,0.6],"title":"Time [s]","titleX":77,"tickSize":-4,"labelPadding":12,"titlePadding":4}},"y":{"field":"v","type":"quantitative","scale":{"domain":[0,3],"nice":false,"zero":false},"axis":{"values":[0,1,2,3],"title":"Speed [m/s ]","offset":-7,"tickSize":-4,"labelPadding":4,"titlePadding":10}}},
"layer":[
{"data":{"values":[{"t":0,"t2":0.8,"v":0}]},"mark":{"type":"rule","color":"#231f20","strokeWidth":1.2},"encoding":{"x2":{"field":"t2"}}},
{"data":{"name":"b1"},"mark":{"type":"line","interpolate":"monotone","color":"#231f20","strokeWidth":1.2},"encoding":{"detail":{"field":"k","type":"nominal"},"order":{"value":null}}},
{"data":{"name":"b1d"},"mark":{"type":"circle","size":45,"opacity":1,"color":"#00A651"}}
]},
{"width":185,"height":227,
"encoding":{"x":{"field":"t","type":"quantitative","scale":{"domain":[-0.0504,1.115],"nice":false,"zero":false},"axis":{"values":[0.2,0.6],"title":null,"tickSize":-4,"labelPadding":12}},"y":{"field":"v","type":"quantitative","scale":{"domain":[0,3],"nice":false,"zero":false},"axis":null}},
"layer":[
{"data":{"values":[{"t":0,"t2":0.8,"v":0}]},"mark":{"type":"rule","color":"#231f20","strokeWidth":1.2},"encoding":{"x2":{"field":"t2"}}},
{"data":{"name":"b2"},"mark":{"type":"line","interpolate":"monotone","color":"#231f20","strokeWidth":1.2},"encoding":{"detail":{"field":"k","type":"nominal"},"order":{"value":null}}},
{"data":{"name":"b2r"},"mark":{"type":"line","interpolate":"monotone","color":"#ED1C24","strokeWidth":1.2},"encoding":{"detail":{"field":"k","type":"nominal"},"order":{"value":null}}},
{"data":{"name":"b2d"},"mark":{"type":"circle","size":45,"opacity":1,"color":"#00AEEF"}}
]},
{"width":192,"height":227,
"encoding":{"x":{"field":"t","type":"quantitative","scale":{"domain":[-0.1067,1.1733],"nice":false,"zero":false},"axis":{"values":[0.2,0.6],"title":null,"tickSize":-4,"labelPadding":12}},"y":{"field":"v","type":"quantitative","scale":{"domain":[0,3],"nice":false,"zero":false},"axis":null}},
"layer":[
{"data":{"values":[{"t":0,"t2":0.8,"v":0}]},"mark":{"type":"rule","color":"#231f20","strokeWidth":1.2},"encoding":{"x2":{"field":"t2"}}},
{"data":{"name":"b3"},"mark":{"type":"line","interpolate":"monotone","color":"#231f20","strokeWidth":1.2},"encoding":{"detail":{"field":"k","type":"nominal"},"order":{"value":null}}},
{"data":{"name":"b3r"},"mark":{"type":"line","interpolate":"monotone","color":"#ED1C24","strokeWidth":1.2},"encoding":{"detail":{"field":"k","type":"nominal"},"order":{"value":null}}},
{"data":{"name":"b3d"},"mark":{"type":"circle","size":45,"opacity":1,"color":"#8DC63F"}}
]},
{"width":181,"height":227,
"encoding":{"x":{"field":"t","type":"quantitative","scale":{"domain":[-0.0434,1.0791],"nice":false,"zero":false},"axis":{"values":[0.2,0.6],"title":null,"tickSize":-4,"labelPadding":12}},"y":{"field":"v","type":"quantitative","scale":{"domain":[0,3],"nice":false,"zero":false},"axis":null}},
"layer":[
{"data":{"values":[{"t":0,"t2":0.8,"v":0}]},"mark":{"type":"rule","color":"#231f20","strokeWidth":1.2},"encoding":{"x2":{"field":"t2"}}},
{"data":{"name":"b4"},"mark":{"type":"line","interpolate":"monotone","color":"#231f20","strokeWidth":1.2},"encoding":{"detail":{"field":"k","type":"nominal"},"order":{"value":null}}},
{"data":{"name":"b4d"},"mark":{"type":"circle","size":45,"opacity":1,"color":"#ED1C24"}}
]},
{"width":188,"height":227,
"encoding":{"x":{"field":"t","type":"quantitative","scale":{"domain":[-0.0558,1.1101],"nice":false,"zero":false},"axis":{"values":[0.2,0.6],"title":null,"tickSize":-4,"labelPadding":12}},"y":{"field":"v","type":"quantitative","scale":{"domain":[0,3],"nice":false,"zero":false},"axis":null}},
"layer":[
{"data":{"values":[{"t":0,"t2":0.8,"v":0}]},"mark":{"type":"rule","color":"#231f20","strokeWidth":1.2},"encoding":{"x2":{"field":"t2"}}},
{"data":{"name":"b5"},"mark":{"type":"line","interpolate":"monotone","color":"#231f20","strokeWidth":1.2},"encoding":{"detail":{"field":"k","type":"nominal"},"order":{"value":null}}},
{"data":{"name":"b5r"},"mark":{"type":"line","interpolate":"monotone","color":"#ED1C24","strokeWidth":1.2},"encoding":{"detail":{"field":"k","type":"nominal"},"order":{"value":null}}},
{"data":{"name":"b5d"},"mark":{"type":"circle","size":45,"opacity":1,"color":"#2E3192"}}
]},
{"width":181,"height":227,
"encoding":{"x":{"field":"t","type":"quantitative","scale":{"domain":[-0.0305,1.0748],"nice":false,"zero":false},"axis":{"values":[0.2,0.6],"title":null,"tickSize":-4,"labelPadding":12}},"y":{"field":"v","type":"quantitative","scale":{"domain":[0,3],"nice":false,"zero":false},"axis":null}},
"layer":[
{"data":{"values":[{"t":0,"t2":0.8,"v":0}]},"mark":{"type":"rule","color":"#231f20","strokeWidth":1.2},"encoding":{"x2":{"field":"t2"}}},
{"data":{"name":"b6"},"mark":{"type":"line","interpolate":"monotone","color":"#231f20","strokeWidth":1.2},"encoding":{"detail":{"field":"k","type":"nominal"},"order":{"value":null}}},
{"data":{"name":"b6r"},"mark":{"type":"line","interpolate":"monotone","color":"#ED1C24","strokeWidth":1.2},"encoding":{"detail":{"field":"k","type":"nominal"},"order":{"value":null}}},
{"data":{"name":"b6d"},"mark":{"type":"circle","size":45,"opacity":1,"color":"#F7A823"}}
]},
{"width":177,"height":227,
"encoding":{"x":{"field":"t","type":"quantitative","scale":{"domain":[-0.25,0.8563],"nice":false,"zero":false},"axis":{"values":[0.2,0.6],"title":null,"tickSize":-4,"labelPadding":12}},"y":{"field":"v","type":"quantitative","scale":{"domain":[0,3],"nice":false,"zero":false},"axis":null}},
"layer":[
{"data":{"values":[{"t":0,"t2":0.8,"v":0}]},"mark":{"type":"rule","color":"#231f20","strokeWidth":1.2},"encoding":{"x2":{"field":"t2"}}},
{"data":{"name":"b7"},"mark":{"type":"line","interpolate":"monotone","strokeWidth":1.3},"encoding":{"detail":{"field":"k","type":"nominal"},"order":{"value":null},"color":{"field":"k","type":"nominal","scale":{"domain":["S1","S2","S3","S4","S5","S6"],"range":["#3a8058","#00AEEF","#8DC63F","#ED1C24","#2E3192","#F7A823"]},"legend":null}}},
{"data":{"name":"b7d"},"mark":{"type":"circle","size":45,"opacity":1},"encoding":{"color":{"field":"k","type":"nominal","scale":{"domain":["S1","S2","S3","S4","S5","S6"],"range":["#3a8058","#00AEEF","#8DC63F","#ED1C24","#2E3192","#F7A823"]},"legend":null}}}
]},
{"width":1,"height":136,"data":{"values":[]},"mark":"point"},{"width":1,"height":136,"data":{"values":[]},"mark":"point"},{"width":1,"height":136,"data":{"values":[]},"mark":"point"},{"width":1,"height":136,"data":{"values":[]},"mark":"point"},{"width":1,"height":136,"data":{"values":[]},"mark":"point"},{"width":1,"height":136,"data":{"values":[]},"mark":"point"},{"width":1,"height":136,"data":{"values":[]},"mark":"point"},{"width":1,"height":136,"data":{"values":[]},"mark":"point"},
{"width":1,"height":209,"data":{"values":[]},"mark":"point"},
{"width":169,"height":209,
"encoding":{"x":{"field":"vx","type":"quantitative","scale":{"domain":[-2.771,5.374],"nice":false,"zero":false},"axis":{"values":[-2,0,2],"title":"Vx [m/s]","titleX":56,"tickSize":-4,"labelPadding":14,"titlePadding":2}},"y":{"field":"vz","type":"quantitative","scale":{"domain":[-6,4],"nice":false,"zero":false},"axis":{"values":[-6,-4,-2,0,2,4],"title":"Vz [m/s ]","offset":-16,"tickSize":-4,"labelPadding":4,"titlePadding":8}}},
"layer":[
{"data":{"values":[{"vx":-2,"vx2":2,"vz":-6}]},"mark":{"type":"rule","color":"#231f20","strokeWidth":1.2},"encoding":{"x2":{"field":"vx2"}}},
{"data":{"name":"c1"},"mark":{"type":"line","interpolate":"catmull-rom","color":"#231f20","strokeWidth":1.2},"encoding":{"detail":{"field":"k","type":"nominal"},"order":{"value":null}}},
{"data":{"name":"c1d"},"mark":{"type":"circle","size":45,"opacity":1,"color":"#00A651"}}
]},
{"width":185,"height":209,
"encoding":{"x":{"field":"vx","type":"quantitative","scale":{"domain":[-2.905,5.905],"nice":false,"zero":false},"axis":{"values":[-2,0,2],"title":null,"tickSize":-4,"labelPadding":14}},"y":{"field":"vz","type":"quantitative","scale":{"domain":[-6,4],"nice":false,"zero":false},"axis":null}},
"layer":[
{"data":{"values":[{"vx":-2,"vx2":2,"vz":-6}]},"mark":{"type":"rule","color":"#231f20","strokeWidth":1.2},"encoding":{"x2":{"field":"vx2"}}},
{"data":{"name":"c2"},"mark":{"type":"line","interpolate":"catmull-rom","color":"#231f20","strokeWidth":1.2},"encoding":{"detail":{"field":"k","type":"nominal"},"order":{"value":null}}},
{"data":{"name":"c2r"},"mark":{"type":"line","interpolate":"catmull-rom","color":"#ED1C24","strokeWidth":1.2},"encoding":{"detail":{"field":"k","type":"nominal"},"order":{"value":null}}},
{"data":{"name":"c2d"},"mark":{"type":"circle","size":45,"opacity":1,"color":"#00AEEF"}}
]},
{"width":192,"height":209,
"encoding":{"x":{"field":"vx","type":"quantitative","scale":{"domain":[-2.905,6.238],"nice":false,"zero":false},"axis":{"values":[-2,0,2],"title":null,"tickSize":-4,"labelPadding":14}},"y":{"field":"vz","type":"quantitative","scale":{"domain":[-6,4],"nice":false,"zero":false},"axis":null}},
"layer":[
{"data":{"values":[{"vx":-2,"vx2":2,"vz":-6}]},"mark":{"type":"rule","color":"#231f20","strokeWidth":1.2},"encoding":{"x2":{"field":"vx2"}}},
{"data":{"name":"c3"},"mark":{"type":"line","interpolate":"catmull-rom","color":"#231f20","strokeWidth":1.2},"encoding":{"detail":{"field":"k","type":"nominal"},"order":{"value":null}}},
{"data":{"name":"c3r"},"mark":{"type":"line","interpolate":"catmull-rom","color":"#ED1C24","strokeWidth":1.2},"encoding":{"detail":{"field":"k","type":"nominal"},"order":{"value":null}}},
{"data":{"name":"c3d"},"mark":{"type":"circle","size":45,"opacity":1,"color":"#8DC63F"}}
]},
{"width":181,"height":209,
"encoding":{"x":{"field":"vx","type":"quantitative","scale":{"domain":[-2.81,5.81],"nice":false,"zero":false},"axis":{"values":[-2,0,2],"title":null,"tickSize":-4,"labelPadding":14}},"y":{"field":"vz","type":"quantitative","scale":{"domain":[-6,4],"nice":false,"zero":false},"axis":null}},
"layer":[
{"data":{"values":[{"vx":-2,"vx2":2,"vz":-6}]},"mark":{"type":"rule","color":"#231f20","strokeWidth":1.2},"encoding":{"x2":{"field":"vx2"}}},
{"data":{"name":"c4"},"mark":{"type":"line","interpolate":"catmull-rom","color":"#231f20","strokeWidth":1.2},"encoding":{"detail":{"field":"k","type":"nominal"},"order":{"value":null}}},
{"data":{"name":"c4d"},"mark":{"type":"circle","size":45,"opacity":1,"color":"#ED1C24"}}
]},
{"width":188,"height":209,
"encoding":{"x":{"field":"vx","type":"quantitative","scale":{"domain":[-2.762,6.19],"nice":false,"zero":false},"axis":{"values":[-2,0,2],"title":null,"tickSize":-4,"labelPadding":14}},"y":{"field":"vz","type":"quantitative","scale":{"domain":[-6,4],"nice":false,"zero":false},"axis":null}},
"layer":[
{"data":{"values":[{"vx":-2,"vx2":2,"vz":-6}]},"mark":{"type":"rule","color":"#231f20","strokeWidth":1.2},"encoding":{"x2":{"field":"vx2"}}},
{"data":{"name":"c5"},"mark":{"type":"line","interpolate":"catmull-rom","color":"#231f20","strokeWidth":1.2},"encoding":{"detail":{"field":"k","type":"nominal"},"order":{"value":null}}},
{"data":{"name":"c5r"},"mark":{"type":"line","interpolate":"catmull-rom","color":"#ED1C24","strokeWidth":1.2},"encoding":{"detail":{"field":"k","type":"nominal"},"order":{"value":null}}},
{"data":{"name":"c5d"},"mark":{"type":"circle","size":45,"opacity":1,"color":"#2E3192"}}
]},
{"width":181,"height":209,
"encoding":{"x":{"field":"vx","type":"quantitative","scale":{"domain":[-2.429,6.19],"nice":false,"zero":false},"axis":{"values":[-2,0,2],"title":null,"tickSize":-4,"labelPadding":14}},"y":{"field":"vz","type":"quantitative","scale":{"domain":[-6,4],"nice":false,"zero":false},"axis":null}},
"layer":[
{"data":{"values":[{"vx":-2,"vx2":2,"vz":-6}]},"mark":{"type":"rule","color":"#231f20","strokeWidth":1.2},"encoding":{"x2":{"field":"vx2"}}},
{"data":{"name":"c6"},"mark":{"type":"line","interpolate":"catmull-rom","color":"#231f20","strokeWidth":1.2},"encoding":{"detail":{"field":"k","type":"nominal"},"order":{"value":null}}},
{"data":{"name":"c6r"},"mark":{"type":"line","interpolate":"catmull-rom","color":"#ED1C24","strokeWidth":1.2},"encoding":{"detail":{"field":"k","type":"nominal"},"order":{"value":null}}},
{"data":{"name":"c6d"},"mark":{"type":"circle","size":45,"opacity":1,"color":"#F7A823"}}
]},
{"width":28,"height":249,"data":{"name":"leg"},
"encoding":{"y":{"field":"label","type":"nominal","sort":null,"scale":{"type":"point","padding":1.0157},"axis":null}},
"layer":[
{"transform":[{"filter":"datum.kind == 'box'"}],"mark":{"type":"point","filled":true,"opacity":1,"size":625,"shape":"M-1,-0.48H1V0.48H-1Z"},"encoding":{"fill":{"field":"label","type":"nominal","scale":{"domain":["S1","S2","S3","S4","S5","S6"],"range":["#00A651","#00AEEF","#8DC63F","#ED1C24","#2E3192","#F6A32A"]},"legend":null}}},
{"transform":[{"filter":"datum.kind == 'line'"}],"mark":{"type":"point","filled":false,"opacity":1,"size":625,"strokeWidth":2.2,"shape":"M-1,0H1"},"encoding":{"stroke":{"field":"label","type":"nominal","scale":{"domain":["Experment I","Experiment II"],"range":["#231f20","#ED1C24"]},"legend":null}}},
{"mark":{"type":"text","align":"left","baseline":"middle","dx":24,"fontSize":19,"color":"#231f20"},"encoding":{"text":{"field":"label","type":"nominal"}}}
]}
]
}
